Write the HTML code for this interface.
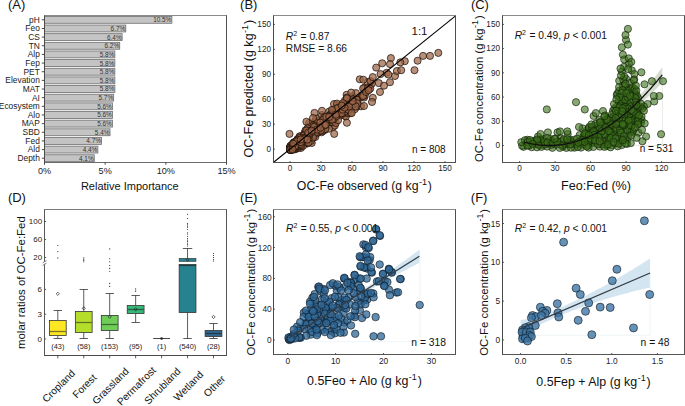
<!DOCTYPE html>
<html><head><meta charset="utf-8"><title>Figure</title>
<style>
html,body{margin:0;padding:0;background:#fff;}
body{width:685px;height:406px;overflow:hidden;}
svg{display:block;font-family:"Liberation Sans", sans-serif;}
</style></head>
<body>
<svg width="685" height="406" viewBox="0 0 685 406">
<rect width="685" height="406" fill="#fff"/>
<text x="7.9" y="9.3" font-size="13" text-anchor="start" fill="#111" >(A)</text>
<rect x="44.5" y="15.5" width="182.0" height="147.0" fill="#fff"/>
<rect x="44.50" y="16.38" width="127.40" height="6.9" fill="#c4c4c4" stroke="#6e6e6e" stroke-width="0.8"/>
<text x="171.3" y="22.2" font-size="6.4" text-anchor="end" fill="#333" >10.5%</text>
<text x="39.8" y="22.6" font-size="8.4" text-anchor="end" fill="#222" >pH</text>
<line x1="41.80" y1="19.82" x2="44.50" y2="19.82" stroke="#333" stroke-width="0.9" />
<rect x="44.50" y="25.03" width="81.29" height="6.9" fill="#c4c4c4" stroke="#6e6e6e" stroke-width="0.8"/>
<text x="125.2" y="30.9" font-size="6.4" text-anchor="end" fill="#333" >6.7%</text>
<text x="39.8" y="31.3" font-size="8.4" text-anchor="end" fill="#222" >Feo</text>
<line x1="41.80" y1="28.48" x2="44.50" y2="28.48" stroke="#333" stroke-width="0.9" />
<rect x="44.50" y="33.67" width="77.65" height="6.9" fill="#c4c4c4" stroke="#6e6e6e" stroke-width="0.8"/>
<text x="121.6" y="39.5" font-size="6.4" text-anchor="end" fill="#333" >6.4%</text>
<text x="39.8" y="39.9" font-size="8.4" text-anchor="end" fill="#222" >CS</text>
<line x1="41.80" y1="37.12" x2="44.50" y2="37.12" stroke="#333" stroke-width="0.9" />
<rect x="44.50" y="42.33" width="75.23" height="6.9" fill="#c4c4c4" stroke="#6e6e6e" stroke-width="0.8"/>
<text x="119.1" y="48.2" font-size="6.4" text-anchor="end" fill="#333" >6.2%</text>
<text x="39.8" y="48.6" font-size="8.4" text-anchor="end" fill="#222" >TN</text>
<line x1="41.80" y1="45.78" x2="44.50" y2="45.78" stroke="#333" stroke-width="0.9" />
<rect x="44.50" y="50.98" width="70.37" height="6.9" fill="#c4c4c4" stroke="#6e6e6e" stroke-width="0.8"/>
<text x="114.3" y="56.8" font-size="6.4" text-anchor="end" fill="#333" >5.8%</text>
<text x="39.8" y="57.2" font-size="8.4" text-anchor="end" fill="#222" >Alp</text>
<line x1="41.80" y1="54.43" x2="44.50" y2="54.43" stroke="#333" stroke-width="0.9" />
<rect x="44.50" y="59.62" width="70.37" height="6.9" fill="#c4c4c4" stroke="#6e6e6e" stroke-width="0.8"/>
<text x="114.3" y="65.5" font-size="6.4" text-anchor="end" fill="#333" >5.8%</text>
<text x="39.8" y="65.9" font-size="8.4" text-anchor="end" fill="#222" >Fep</text>
<line x1="41.80" y1="63.08" x2="44.50" y2="63.08" stroke="#333" stroke-width="0.9" />
<rect x="44.50" y="68.27" width="70.37" height="6.9" fill="#c4c4c4" stroke="#6e6e6e" stroke-width="0.8"/>
<text x="114.3" y="74.1" font-size="6.4" text-anchor="end" fill="#333" >5.8%</text>
<text x="39.8" y="74.5" font-size="8.4" text-anchor="end" fill="#222" >PET</text>
<line x1="41.80" y1="71.72" x2="44.50" y2="71.72" stroke="#333" stroke-width="0.9" />
<rect x="44.50" y="76.92" width="70.37" height="6.9" fill="#c4c4c4" stroke="#6e6e6e" stroke-width="0.8"/>
<text x="114.3" y="82.8" font-size="6.4" text-anchor="end" fill="#333" >5.8%</text>
<text x="39.8" y="83.2" font-size="8.4" text-anchor="end" fill="#222" >Elevation</text>
<line x1="41.80" y1="80.38" x2="44.50" y2="80.38" stroke="#333" stroke-width="0.9" />
<rect x="44.50" y="85.58" width="70.37" height="6.9" fill="#c4c4c4" stroke="#6e6e6e" stroke-width="0.8"/>
<text x="114.3" y="91.4" font-size="6.4" text-anchor="end" fill="#333" >5.8%</text>
<text x="39.8" y="91.8" font-size="8.4" text-anchor="end" fill="#222" >MAT</text>
<line x1="41.80" y1="89.03" x2="44.50" y2="89.03" stroke="#333" stroke-width="0.9" />
<rect x="44.50" y="94.22" width="69.16" height="6.9" fill="#c4c4c4" stroke="#6e6e6e" stroke-width="0.8"/>
<text x="113.1" y="100.1" font-size="6.4" text-anchor="end" fill="#333" >5.7%</text>
<text x="39.8" y="100.5" font-size="8.4" text-anchor="end" fill="#222" >AI</text>
<line x1="41.80" y1="97.67" x2="44.50" y2="97.67" stroke="#333" stroke-width="0.9" />
<rect x="44.50" y="102.88" width="67.95" height="6.9" fill="#c4c4c4" stroke="#6e6e6e" stroke-width="0.8"/>
<text x="111.8" y="108.7" font-size="6.4" text-anchor="end" fill="#333" >5.6%</text>
<text x="39.8" y="109.1" font-size="8.4" text-anchor="end" fill="#222" >Ecosystem</text>
<line x1="41.80" y1="106.33" x2="44.50" y2="106.33" stroke="#333" stroke-width="0.9" />
<rect x="44.50" y="111.53" width="67.95" height="6.9" fill="#c4c4c4" stroke="#6e6e6e" stroke-width="0.8"/>
<text x="111.8" y="117.4" font-size="6.4" text-anchor="end" fill="#333" >5.6%</text>
<text x="39.8" y="117.8" font-size="8.4" text-anchor="end" fill="#222" >Alo</text>
<line x1="41.80" y1="114.98" x2="44.50" y2="114.98" stroke="#333" stroke-width="0.9" />
<rect x="44.50" y="120.17" width="67.95" height="6.9" fill="#c4c4c4" stroke="#6e6e6e" stroke-width="0.8"/>
<text x="111.8" y="126.0" font-size="6.4" text-anchor="end" fill="#333" >5.6%</text>
<text x="39.8" y="126.4" font-size="8.4" text-anchor="end" fill="#222" >MAP</text>
<line x1="41.80" y1="123.62" x2="44.50" y2="123.62" stroke="#333" stroke-width="0.9" />
<rect x="44.50" y="128.83" width="65.52" height="6.9" fill="#c4c4c4" stroke="#6e6e6e" stroke-width="0.8"/>
<text x="109.4" y="134.7" font-size="6.4" text-anchor="end" fill="#333" >5.4%</text>
<text x="39.8" y="135.1" font-size="8.4" text-anchor="end" fill="#222" >SBD</text>
<line x1="41.80" y1="132.28" x2="44.50" y2="132.28" stroke="#333" stroke-width="0.9" />
<rect x="44.50" y="137.48" width="57.03" height="6.9" fill="#c4c4c4" stroke="#6e6e6e" stroke-width="0.8"/>
<text x="100.9" y="143.3" font-size="6.4" text-anchor="end" fill="#333" >4.7%</text>
<text x="39.8" y="143.7" font-size="8.4" text-anchor="end" fill="#222" >Fed</text>
<line x1="41.80" y1="140.93" x2="44.50" y2="140.93" stroke="#333" stroke-width="0.9" />
<rect x="44.50" y="146.13" width="53.39" height="6.9" fill="#c4c4c4" stroke="#6e6e6e" stroke-width="0.8"/>
<text x="97.3" y="152.0" font-size="6.4" text-anchor="end" fill="#333" >4.4%</text>
<text x="39.8" y="152.4" font-size="8.4" text-anchor="end" fill="#222" >Ald</text>
<line x1="41.80" y1="149.58" x2="44.50" y2="149.58" stroke="#333" stroke-width="0.9" />
<rect x="44.50" y="154.78" width="49.75" height="6.9" fill="#c4c4c4" stroke="#6e6e6e" stroke-width="0.8"/>
<text x="93.6" y="160.6" font-size="6.4" text-anchor="end" fill="#333" >4.1%</text>
<text x="39.8" y="161.0" font-size="8.4" text-anchor="end" fill="#222" >Depth</text>
<line x1="41.80" y1="158.22" x2="44.50" y2="158.22" stroke="#333" stroke-width="0.9" />
<line x1="44.00" y1="15.50" x2="227.00" y2="15.50" stroke="#8a8a8a" stroke-width="1" />
<line x1="44.50" y1="15.50" x2="44.50" y2="163.00" stroke="#4a4a4a" stroke-width="1" />
<line x1="44.50" y1="162.50" x2="227.00" y2="162.50" stroke="#6a6a6a" stroke-width="1" />
<line x1="226.50" y1="15.50" x2="226.50" y2="162.50" stroke="#505050" stroke-width="1" />
<line x1="44.50" y1="162.50" x2="44.50" y2="164.70" stroke="#333" stroke-width="0.9" />
<text x="44.5" y="174.4" font-size="9.1" text-anchor="middle" fill="#222" >0%</text>
<line x1="105.17" y1="162.50" x2="105.17" y2="164.70" stroke="#333" stroke-width="0.9" />
<text x="105.2" y="174.4" font-size="9.1" text-anchor="middle" fill="#222" >5%</text>
<line x1="165.83" y1="162.50" x2="165.83" y2="164.70" stroke="#333" stroke-width="0.9" />
<text x="165.8" y="174.4" font-size="9.1" text-anchor="middle" fill="#222" >10%</text>
<line x1="226.50" y1="162.50" x2="226.50" y2="164.70" stroke="#333" stroke-width="0.9" />
<text x="226.5" y="174.4" font-size="9.1" text-anchor="middle" fill="#222" >15%</text>
<text x="129.8" y="190.2" font-size="11" text-anchor="middle" fill="#111">Relative Importance</text>
<text x="240.1" y="9.3" font-size="13" text-anchor="start" fill="#111" >(B)</text>
<g fill="#9c6546" fill-opacity="0.72" stroke="#1e120a" stroke-width="0.75" stroke-opacity="1">
<circle cx="302.7" cy="139.0" r="3.55"/>
<circle cx="291.4" cy="148.2" r="3.55"/>
<circle cx="305.9" cy="134.6" r="3.55"/>
<circle cx="297.3" cy="141.1" r="3.55"/>
<circle cx="294.7" cy="144.6" r="3.55"/>
<circle cx="294.2" cy="146.8" r="3.55"/>
<circle cx="301.5" cy="137.7" r="3.55"/>
<circle cx="295.0" cy="144.0" r="3.55"/>
<circle cx="356.7" cy="101.9" r="3.55"/>
<circle cx="296.5" cy="145.1" r="3.55"/>
<circle cx="302.1" cy="138.5" r="3.55"/>
<circle cx="344.9" cy="100.6" r="3.55"/>
<circle cx="293.3" cy="147.4" r="3.55"/>
<circle cx="290.5" cy="146.4" r="3.55"/>
<circle cx="319.3" cy="126.2" r="3.55"/>
<circle cx="300.9" cy="140.4" r="3.55"/>
<circle cx="360.0" cy="98.0" r="3.55"/>
<circle cx="310.0" cy="135.9" r="3.55"/>
<circle cx="311.9" cy="133.4" r="3.55"/>
<circle cx="306.7" cy="139.6" r="3.55"/>
<circle cx="295.5" cy="143.7" r="3.55"/>
<circle cx="296.4" cy="142.2" r="3.55"/>
<circle cx="333.4" cy="111.1" r="3.55"/>
<circle cx="298.0" cy="145.4" r="3.55"/>
<circle cx="296.8" cy="144.4" r="3.55"/>
<circle cx="333.6" cy="118.2" r="3.55"/>
<circle cx="324.8" cy="130.0" r="3.55"/>
<circle cx="296.7" cy="141.2" r="3.55"/>
<circle cx="317.7" cy="130.1" r="3.55"/>
<circle cx="333.1" cy="126.9" r="3.55"/>
<circle cx="290.3" cy="147.9" r="3.55"/>
<circle cx="333.4" cy="122.1" r="3.55"/>
<circle cx="298.4" cy="141.9" r="3.55"/>
<circle cx="351.9" cy="97.5" r="3.55"/>
<circle cx="317.5" cy="128.8" r="3.55"/>
<circle cx="356.0" cy="100.0" r="3.55"/>
<circle cx="290.9" cy="148.6" r="3.55"/>
<circle cx="302.6" cy="141.7" r="3.55"/>
<circle cx="308.7" cy="134.5" r="3.55"/>
<circle cx="301.4" cy="138.1" r="3.55"/>
<circle cx="290.2" cy="149.1" r="3.55"/>
<circle cx="290.5" cy="147.0" r="3.55"/>
<circle cx="352.5" cy="96.2" r="3.55"/>
<circle cx="313.6" cy="127.3" r="3.55"/>
<circle cx="291.1" cy="148.8" r="3.55"/>
<circle cx="301.1" cy="143.6" r="3.55"/>
<circle cx="306.0" cy="138.1" r="3.55"/>
<circle cx="306.7" cy="142.9" r="3.55"/>
<circle cx="317.1" cy="127.8" r="3.55"/>
<circle cx="296.6" cy="141.9" r="3.55"/>
<circle cx="308.1" cy="134.9" r="3.55"/>
<circle cx="297.0" cy="143.4" r="3.55"/>
<circle cx="292.3" cy="147.5" r="3.55"/>
<circle cx="297.1" cy="143.3" r="3.55"/>
<circle cx="291.5" cy="148.7" r="3.55"/>
<circle cx="308.2" cy="136.2" r="3.55"/>
<circle cx="404.8" cy="61.2" r="3.55"/>
<circle cx="326.0" cy="118.0" r="3.55"/>
<circle cx="294.6" cy="143.1" r="3.55"/>
<circle cx="291.4" cy="147.2" r="3.55"/>
<circle cx="292.5" cy="148.2" r="3.55"/>
<circle cx="297.2" cy="142.5" r="3.55"/>
<circle cx="315.6" cy="127.2" r="3.55"/>
<circle cx="291.4" cy="149.2" r="3.55"/>
<circle cx="320.6" cy="123.1" r="3.55"/>
<circle cx="295.7" cy="144.7" r="3.55"/>
<circle cx="344.6" cy="115.7" r="3.55"/>
<circle cx="294.7" cy="146.0" r="3.55"/>
<circle cx="309.7" cy="129.9" r="3.55"/>
<circle cx="300.8" cy="143.2" r="3.55"/>
<circle cx="295.1" cy="145.7" r="3.55"/>
<circle cx="294.7" cy="142.7" r="3.55"/>
<circle cx="290.4" cy="149.0" r="3.55"/>
<circle cx="319.5" cy="123.9" r="3.55"/>
<circle cx="296.8" cy="145.4" r="3.55"/>
<circle cx="291.1" cy="149.5" r="3.55"/>
<circle cx="312.8" cy="129.1" r="3.55"/>
<circle cx="314.0" cy="134.8" r="3.55"/>
<circle cx="295.4" cy="143.0" r="3.55"/>
<circle cx="290.6" cy="149.0" r="3.55"/>
<circle cx="303.1" cy="138.9" r="3.55"/>
<circle cx="296.4" cy="142.2" r="3.55"/>
<circle cx="319.1" cy="126.4" r="3.55"/>
<circle cx="293.8" cy="146.3" r="3.55"/>
<circle cx="300.5" cy="142.2" r="3.55"/>
<circle cx="376.2" cy="67.6" r="3.55"/>
<circle cx="322.6" cy="120.8" r="3.55"/>
<circle cx="291.7" cy="149.5" r="3.55"/>
<circle cx="313.5" cy="133.5" r="3.55"/>
<circle cx="291.1" cy="146.9" r="3.55"/>
<circle cx="295.7" cy="145.0" r="3.55"/>
<circle cx="323.7" cy="116.7" r="3.55"/>
<circle cx="295.4" cy="145.8" r="3.55"/>
<circle cx="340.4" cy="110.7" r="3.55"/>
<circle cx="326.3" cy="123.3" r="3.55"/>
<circle cx="313.1" cy="130.1" r="3.55"/>
<circle cx="294.0" cy="148.8" r="3.55"/>
<circle cx="308.7" cy="131.1" r="3.55"/>
<circle cx="297.2" cy="142.5" r="3.55"/>
<circle cx="313.7" cy="130.3" r="3.55"/>
<circle cx="294.4" cy="142.8" r="3.55"/>
<circle cx="304.3" cy="141.3" r="3.55"/>
<circle cx="318.0" cy="126.0" r="3.55"/>
<circle cx="304.2" cy="140.4" r="3.55"/>
<circle cx="345.9" cy="116.5" r="3.55"/>
<circle cx="315.1" cy="121.7" r="3.55"/>
<circle cx="294.2" cy="145.3" r="3.55"/>
<circle cx="300.5" cy="143.0" r="3.55"/>
<circle cx="309.6" cy="131.3" r="3.55"/>
<circle cx="311.3" cy="134.5" r="3.55"/>
<circle cx="310.2" cy="136.5" r="3.55"/>
<circle cx="369.8" cy="86.0" r="3.55"/>
<circle cx="337.8" cy="109.0" r="3.55"/>
<circle cx="306.1" cy="137.0" r="3.55"/>
<circle cx="299.7" cy="140.3" r="3.55"/>
<circle cx="331.3" cy="116.7" r="3.55"/>
<circle cx="291.3" cy="148.1" r="3.55"/>
<circle cx="364.0" cy="97.6" r="3.55"/>
<circle cx="301.6" cy="139.5" r="3.55"/>
<circle cx="311.0" cy="127.2" r="3.55"/>
<circle cx="292.5" cy="148.1" r="3.55"/>
<circle cx="312.3" cy="128.7" r="3.55"/>
<circle cx="304.0" cy="137.7" r="3.55"/>
<circle cx="299.8" cy="136.8" r="3.55"/>
<circle cx="293.9" cy="147.3" r="3.55"/>
<circle cx="299.5" cy="147.0" r="3.55"/>
<circle cx="293.1" cy="148.9" r="3.55"/>
<circle cx="308.6" cy="137.5" r="3.55"/>
<circle cx="309.3" cy="125.5" r="3.55"/>
<circle cx="312.7" cy="134.0" r="3.55"/>
<circle cx="302.6" cy="140.2" r="3.55"/>
<circle cx="304.8" cy="134.5" r="3.55"/>
<circle cx="308.7" cy="135.6" r="3.55"/>
<circle cx="295.9" cy="144.4" r="3.55"/>
<circle cx="303.6" cy="138.5" r="3.55"/>
<circle cx="302.2" cy="139.5" r="3.55"/>
<circle cx="291.5" cy="147.8" r="3.55"/>
<circle cx="304.4" cy="140.6" r="3.55"/>
<circle cx="299.2" cy="142.1" r="3.55"/>
<circle cx="295.6" cy="145.1" r="3.55"/>
<circle cx="300.6" cy="141.2" r="3.55"/>
<circle cx="294.5" cy="146.6" r="3.55"/>
<circle cx="297.5" cy="141.8" r="3.55"/>
<circle cx="294.7" cy="144.4" r="3.55"/>
<circle cx="324.9" cy="121.6" r="3.55"/>
<circle cx="313.6" cy="134.2" r="3.55"/>
<circle cx="324.4" cy="119.2" r="3.55"/>
<circle cx="321.5" cy="132.3" r="3.55"/>
<circle cx="297.7" cy="146.0" r="3.55"/>
<circle cx="304.9" cy="134.8" r="3.55"/>
<circle cx="348.1" cy="102.5" r="3.55"/>
<circle cx="319.0" cy="126.4" r="3.55"/>
<circle cx="298.4" cy="142.2" r="3.55"/>
<circle cx="320.8" cy="126.5" r="3.55"/>
<circle cx="293.1" cy="149.4" r="3.55"/>
<circle cx="321.0" cy="129.3" r="3.55"/>
<circle cx="357.1" cy="99.7" r="3.55"/>
<circle cx="293.2" cy="147.5" r="3.55"/>
<circle cx="321.3" cy="126.5" r="3.55"/>
<circle cx="293.9" cy="142.8" r="3.55"/>
<circle cx="386.6" cy="72.8" r="3.55"/>
<circle cx="297.4" cy="142.7" r="3.55"/>
<circle cx="299.2" cy="138.0" r="3.55"/>
<circle cx="345.0" cy="108.0" r="3.55"/>
<circle cx="291.8" cy="146.6" r="3.55"/>
<circle cx="295.5" cy="143.8" r="3.55"/>
<circle cx="308.7" cy="131.5" r="3.55"/>
<circle cx="301.6" cy="146.2" r="3.55"/>
<circle cx="292.9" cy="147.7" r="3.55"/>
<circle cx="316.2" cy="131.1" r="3.55"/>
<circle cx="315.6" cy="129.4" r="3.55"/>
<circle cx="364.2" cy="87.7" r="3.55"/>
<circle cx="295.2" cy="145.7" r="3.55"/>
<circle cx="304.7" cy="137.8" r="3.55"/>
<circle cx="305.3" cy="138.5" r="3.55"/>
<circle cx="343.7" cy="113.4" r="3.55"/>
<circle cx="297.4" cy="144.6" r="3.55"/>
<circle cx="306.1" cy="132.7" r="3.55"/>
<circle cx="324.7" cy="124.5" r="3.55"/>
<circle cx="309.7" cy="132.2" r="3.55"/>
<circle cx="293.3" cy="148.1" r="3.55"/>
<circle cx="298.0" cy="141.5" r="3.55"/>
<circle cx="291.8" cy="147.4" r="3.55"/>
<circle cx="306.4" cy="137.0" r="3.55"/>
<circle cx="316.8" cy="126.5" r="3.55"/>
<circle cx="334.7" cy="115.1" r="3.55"/>
<circle cx="304.2" cy="143.0" r="3.55"/>
<circle cx="297.8" cy="142.1" r="3.55"/>
<circle cx="296.4" cy="141.5" r="3.55"/>
<circle cx="296.5" cy="142.0" r="3.55"/>
<circle cx="304.3" cy="139.6" r="3.55"/>
<circle cx="327.8" cy="121.9" r="3.55"/>
<circle cx="290.9" cy="148.2" r="3.55"/>
<circle cx="317.7" cy="124.7" r="3.55"/>
<circle cx="296.1" cy="145.4" r="3.55"/>
<circle cx="329.3" cy="111.5" r="3.55"/>
<circle cx="290.8" cy="145.8" r="3.55"/>
<circle cx="316.2" cy="131.1" r="3.55"/>
<circle cx="329.2" cy="123.1" r="3.55"/>
<circle cx="356.5" cy="99.6" r="3.55"/>
<circle cx="292.1" cy="147.3" r="3.55"/>
<circle cx="303.9" cy="136.3" r="3.55"/>
<circle cx="304.2" cy="139.9" r="3.55"/>
<circle cx="310.2" cy="135.2" r="3.55"/>
<circle cx="298.6" cy="140.6" r="3.55"/>
<circle cx="311.8" cy="143.0" r="3.55"/>
<circle cx="306.1" cy="142.3" r="3.55"/>
<circle cx="304.2" cy="138.5" r="3.55"/>
<circle cx="291.1" cy="148.1" r="3.55"/>
<circle cx="294.3" cy="145.5" r="3.55"/>
<circle cx="310.0" cy="125.5" r="3.55"/>
<circle cx="303.4" cy="137.5" r="3.55"/>
<circle cx="291.0" cy="149.6" r="3.55"/>
<circle cx="329.3" cy="122.9" r="3.55"/>
<circle cx="332.9" cy="122.1" r="3.55"/>
<circle cx="296.6" cy="143.0" r="3.55"/>
<circle cx="296.6" cy="144.9" r="3.55"/>
<circle cx="291.1" cy="146.7" r="3.55"/>
<circle cx="343.4" cy="110.9" r="3.55"/>
<circle cx="291.3" cy="148.1" r="3.55"/>
<circle cx="336.3" cy="107.5" r="3.55"/>
<circle cx="347.5" cy="106.4" r="3.55"/>
<circle cx="306.5" cy="135.9" r="3.55"/>
<circle cx="309.0" cy="136.8" r="3.55"/>
<circle cx="340.0" cy="105.7" r="3.55"/>
<circle cx="334.8" cy="125.6" r="3.55"/>
<circle cx="291.6" cy="147.5" r="3.55"/>
<circle cx="395.0" cy="76.0" r="3.55"/>
<circle cx="296.6" cy="145.2" r="3.55"/>
<circle cx="315.5" cy="132.7" r="3.55"/>
<circle cx="364.8" cy="95.6" r="3.55"/>
<circle cx="296.2" cy="148.6" r="3.55"/>
<circle cx="291.8" cy="147.9" r="3.55"/>
<circle cx="308.7" cy="135.4" r="3.55"/>
<circle cx="318.0" cy="128.6" r="3.55"/>
<circle cx="339.1" cy="112.2" r="3.55"/>
<circle cx="340.2" cy="115.4" r="3.55"/>
<circle cx="322.4" cy="122.4" r="3.55"/>
<circle cx="291.7" cy="148.7" r="3.55"/>
<circle cx="361.0" cy="106.3" r="3.55"/>
<circle cx="291.6" cy="148.7" r="3.55"/>
<circle cx="330.9" cy="117.3" r="3.55"/>
<circle cx="301.0" cy="147.9" r="3.55"/>
<circle cx="299.6" cy="145.0" r="3.55"/>
<circle cx="317.8" cy="125.5" r="3.55"/>
<circle cx="348.3" cy="113.2" r="3.55"/>
<circle cx="296.8" cy="146.1" r="3.55"/>
<circle cx="307.2" cy="139.1" r="3.55"/>
<circle cx="298.8" cy="144.2" r="3.55"/>
<circle cx="294.6" cy="144.4" r="3.55"/>
<circle cx="293.0" cy="144.8" r="3.55"/>
<circle cx="296.1" cy="145.7" r="3.55"/>
<circle cx="340.0" cy="112.0" r="3.55"/>
<circle cx="293.4" cy="148.0" r="3.55"/>
<circle cx="314.8" cy="126.6" r="3.55"/>
<circle cx="294.6" cy="147.1" r="3.55"/>
<circle cx="292.7" cy="147.4" r="3.55"/>
<circle cx="289.5" cy="133.9" r="3.55"/>
<circle cx="293.1" cy="146.4" r="3.55"/>
<circle cx="322.0" cy="115.0" r="3.55"/>
<circle cx="317.9" cy="127.2" r="3.55"/>
<circle cx="297.3" cy="144.5" r="3.55"/>
<circle cx="293.6" cy="147.7" r="3.55"/>
<circle cx="331.0" cy="116.4" r="3.55"/>
<circle cx="309.3" cy="134.6" r="3.55"/>
<circle cx="324.8" cy="118.8" r="3.55"/>
<circle cx="333.3" cy="121.2" r="3.55"/>
<circle cx="322.8" cy="131.2" r="3.55"/>
<circle cx="316.5" cy="120.9" r="3.55"/>
<circle cx="341.0" cy="113.5" r="3.55"/>
<circle cx="302.1" cy="141.7" r="3.55"/>
<circle cx="303.1" cy="139.7" r="3.55"/>
<circle cx="363.1" cy="88.5" r="3.55"/>
<circle cx="350.5" cy="113.1" r="3.55"/>
<circle cx="332.0" cy="122.0" r="3.55"/>
<circle cx="333.0" cy="110.0" r="3.55"/>
<circle cx="337.6" cy="105.4" r="3.55"/>
<circle cx="356.4" cy="107.1" r="3.55"/>
<circle cx="293.5" cy="148.5" r="3.55"/>
<circle cx="300.9" cy="142.7" r="3.55"/>
<circle cx="295.3" cy="148.7" r="3.55"/>
<circle cx="380.5" cy="74.1" r="3.55"/>
<circle cx="301.5" cy="142.2" r="3.55"/>
<circle cx="308.2" cy="134.3" r="3.55"/>
<circle cx="297.2" cy="144.0" r="3.55"/>
<circle cx="293.8" cy="143.9" r="3.55"/>
<circle cx="294.9" cy="146.2" r="3.55"/>
<circle cx="293.5" cy="147.7" r="3.55"/>
<circle cx="318.2" cy="125.8" r="3.55"/>
<circle cx="300.2" cy="144.3" r="3.55"/>
<circle cx="293.8" cy="148.4" r="3.55"/>
<circle cx="306.1" cy="135.2" r="3.55"/>
<circle cx="291.1" cy="149.5" r="3.55"/>
<circle cx="300.7" cy="141.9" r="3.55"/>
<circle cx="297.4" cy="141.7" r="3.55"/>
<circle cx="307.4" cy="133.1" r="3.55"/>
<circle cx="309.0" cy="123.0" r="3.55"/>
<circle cx="297.3" cy="141.9" r="3.55"/>
<circle cx="378.8" cy="83.1" r="3.55"/>
<circle cx="346.6" cy="94.8" r="3.55"/>
<circle cx="371.7" cy="83.7" r="3.55"/>
<circle cx="296.1" cy="145.0" r="3.55"/>
<circle cx="321.6" cy="126.2" r="3.55"/>
<circle cx="290.6" cy="147.6" r="3.55"/>
<circle cx="290.6" cy="147.5" r="3.55"/>
<circle cx="298.8" cy="146.4" r="3.55"/>
<circle cx="301.9" cy="137.1" r="3.55"/>
<circle cx="306.4" cy="121.7" r="3.55"/>
<circle cx="290.5" cy="148.0" r="3.55"/>
<circle cx="323.4" cy="125.5" r="3.55"/>
<circle cx="290.2" cy="146.6" r="3.55"/>
<circle cx="335.8" cy="123.0" r="3.55"/>
<circle cx="297.2" cy="145.9" r="3.55"/>
<circle cx="300.3" cy="143.1" r="3.55"/>
<circle cx="305.5" cy="133.1" r="3.55"/>
<circle cx="291.6" cy="148.7" r="3.55"/>
<circle cx="307.8" cy="138.7" r="3.55"/>
<circle cx="291.3" cy="148.3" r="3.55"/>
<circle cx="291.3" cy="148.9" r="3.55"/>
<circle cx="292.9" cy="147.0" r="3.55"/>
<circle cx="331.0" cy="119.5" r="3.55"/>
<circle cx="359.8" cy="79.3" r="3.55"/>
<circle cx="296.0" cy="146.2" r="3.55"/>
<circle cx="306.7" cy="140.4" r="3.55"/>
<circle cx="293.0" cy="147.0" r="3.55"/>
<circle cx="299.6" cy="141.8" r="3.55"/>
<circle cx="334.0" cy="104.0" r="3.55"/>
<circle cx="344.6" cy="111.6" r="3.55"/>
<circle cx="291.3" cy="148.6" r="3.55"/>
<circle cx="312.7" cy="131.5" r="3.55"/>
<circle cx="315.7" cy="128.9" r="3.55"/>
<circle cx="291.8" cy="147.8" r="3.55"/>
<circle cx="346.7" cy="97.7" r="3.55"/>
<circle cx="300.9" cy="139.9" r="3.55"/>
<circle cx="294.4" cy="145.7" r="3.55"/>
<circle cx="367.5" cy="82.1" r="3.55"/>
<circle cx="297.4" cy="142.7" r="3.55"/>
<circle cx="291.2" cy="147.7" r="3.55"/>
<circle cx="295.7" cy="142.8" r="3.55"/>
<circle cx="298.5" cy="141.3" r="3.55"/>
<circle cx="345.4" cy="104.1" r="3.55"/>
<circle cx="291.4" cy="147.9" r="3.55"/>
<circle cx="313.0" cy="130.7" r="3.55"/>
<circle cx="323.0" cy="129.7" r="3.55"/>
<circle cx="295.1" cy="142.0" r="3.55"/>
<circle cx="307.2" cy="135.5" r="3.55"/>
<circle cx="294.9" cy="145.9" r="3.55"/>
<circle cx="291.6" cy="148.0" r="3.55"/>
<circle cx="308.5" cy="136.6" r="3.55"/>
<circle cx="307.1" cy="143.6" r="3.55"/>
<circle cx="292.6" cy="146.3" r="3.55"/>
<circle cx="297.5" cy="139.1" r="3.55"/>
<circle cx="317.6" cy="131.7" r="3.55"/>
<circle cx="334.1" cy="114.9" r="3.55"/>
<circle cx="294.7" cy="143.8" r="3.55"/>
<circle cx="352.8" cy="99.3" r="3.55"/>
<circle cx="294.7" cy="146.2" r="3.55"/>
<circle cx="292.5" cy="148.5" r="3.55"/>
<circle cx="293.0" cy="148.8" r="3.55"/>
<circle cx="295.2" cy="146.0" r="3.55"/>
<circle cx="321.2" cy="127.6" r="3.55"/>
<circle cx="300.0" cy="141.4" r="3.55"/>
<circle cx="317.6" cy="123.9" r="3.55"/>
<circle cx="301.6" cy="140.1" r="3.55"/>
<circle cx="322.0" cy="110.8" r="3.55"/>
<circle cx="295.4" cy="145.5" r="3.55"/>
<circle cx="296.7" cy="145.5" r="3.55"/>
<circle cx="326.8" cy="120.4" r="3.55"/>
<circle cx="300.2" cy="144.5" r="3.55"/>
<circle cx="300.6" cy="142.6" r="3.55"/>
<circle cx="316.5" cy="131.9" r="3.55"/>
<circle cx="303.9" cy="134.8" r="3.55"/>
<circle cx="292.9" cy="144.8" r="3.55"/>
<circle cx="298.6" cy="143.8" r="3.55"/>
<circle cx="298.8" cy="142.8" r="3.55"/>
<circle cx="300.4" cy="142.2" r="3.55"/>
<circle cx="338.1" cy="120.2" r="3.55"/>
<circle cx="301.3" cy="141.7" r="3.55"/>
<circle cx="297.4" cy="144.2" r="3.55"/>
<circle cx="311.1" cy="131.4" r="3.55"/>
<circle cx="328.8" cy="117.5" r="3.55"/>
<circle cx="331.2" cy="113.7" r="3.55"/>
<circle cx="290.9" cy="149.3" r="3.55"/>
<circle cx="298.1" cy="141.5" r="3.55"/>
<circle cx="308.0" cy="135.2" r="3.55"/>
<circle cx="305.2" cy="143.3" r="3.55"/>
<circle cx="294.5" cy="144.6" r="3.55"/>
<circle cx="305.1" cy="137.5" r="3.55"/>
<circle cx="295.0" cy="144.7" r="3.55"/>
<circle cx="296.4" cy="144.1" r="3.55"/>
<circle cx="293.3" cy="145.5" r="3.55"/>
<circle cx="291.3" cy="147.4" r="3.55"/>
<circle cx="315.2" cy="131.3" r="3.55"/>
<circle cx="305.8" cy="140.4" r="3.55"/>
<circle cx="299.0" cy="142.1" r="3.55"/>
<circle cx="309.0" cy="134.1" r="3.55"/>
<circle cx="330.3" cy="114.6" r="3.55"/>
<circle cx="293.2" cy="147.5" r="3.55"/>
<circle cx="307.5" cy="128.3" r="3.55"/>
<circle cx="295.3" cy="144.9" r="3.55"/>
<circle cx="296.8" cy="143.1" r="3.55"/>
<circle cx="291.2" cy="147.0" r="3.55"/>
<circle cx="295.7" cy="144.5" r="3.55"/>
<circle cx="292.9" cy="148.9" r="3.55"/>
<circle cx="354.8" cy="109.2" r="3.55"/>
<circle cx="291.6" cy="149.2" r="3.55"/>
<circle cx="293.1" cy="146.7" r="3.55"/>
<circle cx="291.1" cy="147.3" r="3.55"/>
<circle cx="316.4" cy="126.8" r="3.55"/>
<circle cx="315.1" cy="124.7" r="3.55"/>
<circle cx="296.7" cy="143.8" r="3.55"/>
<circle cx="316.4" cy="131.3" r="3.55"/>
<circle cx="318.7" cy="123.4" r="3.55"/>
<circle cx="290.8" cy="149.6" r="3.55"/>
<circle cx="299.6" cy="140.4" r="3.55"/>
<circle cx="296.6" cy="142.7" r="3.55"/>
<circle cx="294.3" cy="145.0" r="3.55"/>
<circle cx="312.5" cy="138.0" r="3.55"/>
<circle cx="314.5" cy="112.9" r="3.55"/>
<circle cx="304.7" cy="132.8" r="3.55"/>
<circle cx="312.6" cy="129.6" r="3.55"/>
<circle cx="293.6" cy="148.4" r="3.55"/>
<circle cx="326.6" cy="125.7" r="3.55"/>
<circle cx="329.0" cy="128.7" r="3.55"/>
<circle cx="296.0" cy="144.7" r="3.55"/>
<circle cx="304.4" cy="141.8" r="3.55"/>
<circle cx="298.4" cy="140.6" r="3.55"/>
<circle cx="297.9" cy="141.0" r="3.55"/>
<circle cx="297.9" cy="142.6" r="3.55"/>
<circle cx="290.7" cy="147.7" r="3.55"/>
<circle cx="305.9" cy="137.8" r="3.55"/>
<circle cx="305.5" cy="136.7" r="3.55"/>
<circle cx="314.6" cy="130.3" r="3.55"/>
<circle cx="292.1" cy="148.9" r="3.55"/>
<circle cx="315.8" cy="132.0" r="3.55"/>
<circle cx="362.5" cy="95.6" r="3.55"/>
<circle cx="343.9" cy="107.2" r="3.55"/>
<circle cx="294.0" cy="147.0" r="3.55"/>
<circle cx="297.4" cy="142.3" r="3.55"/>
<circle cx="290.3" cy="149.4" r="3.55"/>
<circle cx="302.9" cy="140.3" r="3.55"/>
<circle cx="333.7" cy="119.0" r="3.55"/>
<circle cx="292.3" cy="147.0" r="3.55"/>
<circle cx="304.1" cy="138.4" r="3.55"/>
<circle cx="302.1" cy="141.4" r="3.55"/>
<circle cx="334.2" cy="133.9" r="3.55"/>
<circle cx="290.3" cy="149.4" r="3.55"/>
<circle cx="294.5" cy="143.4" r="3.55"/>
<circle cx="308.5" cy="133.3" r="3.55"/>
<circle cx="294.1" cy="146.6" r="3.55"/>
<circle cx="423.1" cy="55.9" r="3.55"/>
<circle cx="430.0" cy="55.9" r="3.55"/>
<circle cx="305.2" cy="138.0" r="3.55"/>
<circle cx="313.7" cy="125.2" r="3.55"/>
<circle cx="329.2" cy="116.1" r="3.55"/>
<circle cx="313.3" cy="130.1" r="3.55"/>
<circle cx="367.0" cy="91.3" r="3.55"/>
<circle cx="337.0" cy="103.6" r="3.55"/>
<circle cx="302.3" cy="144.6" r="3.55"/>
<circle cx="346.9" cy="122.8" r="3.55"/>
<circle cx="307.5" cy="135.0" r="3.55"/>
<circle cx="307.7" cy="136.0" r="3.55"/>
<circle cx="295.9" cy="141.7" r="3.55"/>
<circle cx="300.4" cy="140.6" r="3.55"/>
<circle cx="363.2" cy="96.1" r="3.55"/>
<circle cx="307.8" cy="134.4" r="3.55"/>
<circle cx="306.7" cy="134.6" r="3.55"/>
<circle cx="298.7" cy="139.7" r="3.55"/>
<circle cx="308.2" cy="135.2" r="3.55"/>
<circle cx="317.2" cy="125.9" r="3.55"/>
<circle cx="317.8" cy="123.9" r="3.55"/>
<circle cx="294.5" cy="142.6" r="3.55"/>
<circle cx="300.9" cy="141.6" r="3.55"/>
<circle cx="301.3" cy="139.1" r="3.55"/>
<circle cx="295.3" cy="149.2" r="3.55"/>
<circle cx="302.4" cy="139.3" r="3.55"/>
<circle cx="299.6" cy="145.5" r="3.55"/>
<circle cx="338.6" cy="107.9" r="3.55"/>
<circle cx="290.3" cy="149.8" r="3.55"/>
<circle cx="303.8" cy="138.7" r="3.55"/>
<circle cx="290.4" cy="149.5" r="3.55"/>
<circle cx="293.1" cy="146.4" r="3.55"/>
<circle cx="353.4" cy="104.6" r="3.55"/>
<circle cx="313.3" cy="130.3" r="3.55"/>
<circle cx="340.9" cy="109.5" r="3.55"/>
<circle cx="297.7" cy="146.0" r="3.55"/>
<circle cx="307.0" cy="139.4" r="3.55"/>
<circle cx="296.6" cy="143.1" r="3.55"/>
<circle cx="355.9" cy="93.1" r="3.55"/>
<circle cx="297.6" cy="145.5" r="3.55"/>
<circle cx="309.8" cy="131.2" r="3.55"/>
<circle cx="348.4" cy="109.7" r="3.55"/>
<circle cx="291.7" cy="145.8" r="3.55"/>
<circle cx="299.0" cy="143.9" r="3.55"/>
<circle cx="330.8" cy="114.9" r="3.55"/>
<circle cx="366.0" cy="92.0" r="3.55"/>
<circle cx="298.5" cy="144.1" r="3.55"/>
<circle cx="305.4" cy="139.3" r="3.55"/>
<circle cx="290.8" cy="149.1" r="3.55"/>
<circle cx="305.5" cy="134.7" r="3.55"/>
<circle cx="298.4" cy="141.3" r="3.55"/>
<circle cx="302.0" cy="137.4" r="3.55"/>
<circle cx="314.0" cy="134.0" r="3.55"/>
<circle cx="316.0" cy="118.7" r="3.55"/>
<circle cx="320.3" cy="126.2" r="3.55"/>
<circle cx="324.1" cy="126.0" r="3.55"/>
<circle cx="311.9" cy="137.1" r="3.55"/>
<circle cx="292.7" cy="146.0" r="3.55"/>
<circle cx="290.3" cy="149.6" r="3.55"/>
<circle cx="294.0" cy="146.5" r="3.55"/>
<circle cx="337.6" cy="112.2" r="3.55"/>
<circle cx="292.0" cy="148.8" r="3.55"/>
<circle cx="302.7" cy="138.6" r="3.55"/>
<circle cx="396.9" cy="71.0" r="3.55"/>
<circle cx="291.1" cy="146.3" r="3.55"/>
<circle cx="295.6" cy="145.1" r="3.55"/>
<circle cx="291.8" cy="147.1" r="3.55"/>
<circle cx="294.3" cy="145.8" r="3.55"/>
<circle cx="299.8" cy="142.4" r="3.55"/>
<circle cx="314.6" cy="131.7" r="3.55"/>
<circle cx="298.1" cy="148.2" r="3.55"/>
<circle cx="290.9" cy="148.2" r="3.55"/>
<circle cx="299.5" cy="139.6" r="3.55"/>
<circle cx="370.6" cy="81.0" r="3.55"/>
<circle cx="315.3" cy="137.0" r="3.55"/>
<circle cx="292.2" cy="149.4" r="3.55"/>
<circle cx="303.0" cy="138.0" r="3.55"/>
<circle cx="329.5" cy="116.2" r="3.55"/>
<circle cx="306.8" cy="139.6" r="3.55"/>
<circle cx="292.1" cy="148.8" r="3.55"/>
<circle cx="338.0" cy="108.6" r="3.55"/>
<circle cx="291.2" cy="146.6" r="3.55"/>
<circle cx="401.2" cy="70.2" r="3.55"/>
<circle cx="301.3" cy="139.1" r="3.55"/>
<circle cx="303.7" cy="138.4" r="3.55"/>
<circle cx="390.9" cy="58.1" r="3.55"/>
<circle cx="297.3" cy="146.2" r="3.55"/>
<circle cx="290.0" cy="147.1" r="3.55"/>
<circle cx="390.0" cy="64.1" r="3.55"/>
<circle cx="331.8" cy="117.0" r="3.55"/>
<circle cx="357.3" cy="103.3" r="3.55"/>
<circle cx="294.6" cy="147.4" r="3.55"/>
<circle cx="297.0" cy="141.7" r="3.55"/>
<circle cx="292.0" cy="148.7" r="3.55"/>
<circle cx="312.1" cy="136.3" r="3.55"/>
<circle cx="297.9" cy="146.5" r="3.55"/>
<circle cx="297.1" cy="145.6" r="3.55"/>
<circle cx="299.7" cy="136.2" r="3.55"/>
<circle cx="299.3" cy="142.0" r="3.55"/>
<circle cx="294.9" cy="146.0" r="3.55"/>
<circle cx="291.7" cy="146.3" r="3.55"/>
<circle cx="299.3" cy="140.0" r="3.55"/>
<circle cx="293.5" cy="146.7" r="3.55"/>
<circle cx="368.0" cy="88.0" r="3.55"/>
<circle cx="321.9" cy="122.2" r="3.55"/>
<circle cx="337.3" cy="108.2" r="3.55"/>
<circle cx="297.7" cy="139.9" r="3.55"/>
<circle cx="296.4" cy="145.9" r="3.55"/>
<circle cx="298.7" cy="146.7" r="3.55"/>
<circle cx="304.4" cy="136.8" r="3.55"/>
<circle cx="290.1" cy="149.8" r="3.55"/>
<circle cx="384.0" cy="85.7" r="3.55"/>
<circle cx="303.3" cy="135.2" r="3.55"/>
<circle cx="322.7" cy="124.2" r="3.55"/>
<circle cx="296.5" cy="141.7" r="3.55"/>
<circle cx="309.0" cy="131.7" r="3.55"/>
<circle cx="296.3" cy="145.3" r="3.55"/>
<circle cx="300.3" cy="142.1" r="3.55"/>
<circle cx="293.4" cy="144.0" r="3.55"/>
<circle cx="336.4" cy="116.3" r="3.55"/>
<circle cx="302.6" cy="139.3" r="3.55"/>
<circle cx="309.7" cy="133.1" r="3.55"/>
<circle cx="296.2" cy="143.6" r="3.55"/>
<circle cx="370.2" cy="88.7" r="3.55"/>
<circle cx="294.2" cy="144.4" r="3.55"/>
<circle cx="305.5" cy="130.3" r="3.55"/>
<circle cx="414.5" cy="70.2" r="3.55"/>
<circle cx="318.0" cy="132.2" r="3.55"/>
<circle cx="324.9" cy="116.8" r="3.55"/>
<circle cx="303.2" cy="145.8" r="3.55"/>
<circle cx="316.5" cy="133.7" r="3.55"/>
<circle cx="309.5" cy="135.8" r="3.55"/>
<circle cx="314.2" cy="130.9" r="3.55"/>
<circle cx="325.4" cy="129.0" r="3.55"/>
<circle cx="295.3" cy="147.1" r="3.55"/>
<circle cx="290.7" cy="146.2" r="3.55"/>
<circle cx="323.7" cy="124.8" r="3.55"/>
<circle cx="294.0" cy="146.3" r="3.55"/>
<circle cx="341.5" cy="113.3" r="3.55"/>
<circle cx="311.0" cy="141.0" r="3.55"/>
<circle cx="293.2" cy="147.5" r="3.55"/>
<circle cx="292.0" cy="147.6" r="3.55"/>
<circle cx="372.8" cy="97.8" r="3.55"/>
<circle cx="291.1" cy="145.4" r="3.55"/>
<circle cx="309.2" cy="136.4" r="3.55"/>
<circle cx="294.8" cy="142.5" r="3.55"/>
<circle cx="306.6" cy="130.5" r="3.55"/>
<circle cx="291.3" cy="148.0" r="3.55"/>
<circle cx="342.7" cy="109.6" r="3.55"/>
<circle cx="294.1" cy="142.3" r="3.55"/>
<circle cx="313.8" cy="131.8" r="3.55"/>
<circle cx="317.5" cy="122.8" r="3.55"/>
<circle cx="292.6" cy="145.5" r="3.55"/>
<circle cx="299.3" cy="141.8" r="3.55"/>
<circle cx="300.7" cy="140.1" r="3.55"/>
<circle cx="292.9" cy="149.8" r="3.55"/>
<circle cx="294.0" cy="145.9" r="3.55"/>
<circle cx="348.1" cy="104.5" r="3.55"/>
<circle cx="316.8" cy="126.6" r="3.55"/>
<circle cx="301.1" cy="140.6" r="3.55"/>
<circle cx="301.6" cy="143.2" r="3.55"/>
<circle cx="306.3" cy="142.5" r="3.55"/>
<circle cx="352.0" cy="104.0" r="3.55"/>
<circle cx="294.3" cy="145.6" r="3.55"/>
<circle cx="317.5" cy="126.7" r="3.55"/>
<circle cx="324.2" cy="125.5" r="3.55"/>
<circle cx="308.8" cy="138.2" r="3.55"/>
<circle cx="300.1" cy="141.9" r="3.55"/>
<circle cx="323.4" cy="119.3" r="3.55"/>
<circle cx="301.3" cy="143.1" r="3.55"/>
<circle cx="293.0" cy="143.1" r="3.55"/>
<circle cx="296.4" cy="146.2" r="3.55"/>
<circle cx="292.0" cy="148.8" r="3.55"/>
<circle cx="390.0" cy="82.2" r="3.55"/>
<circle cx="372.8" cy="77.1" r="3.55"/>
<circle cx="293.0" cy="149.0" r="3.55"/>
<circle cx="438.3" cy="52.9" r="3.55"/>
<circle cx="302.7" cy="141.9" r="3.55"/>
<circle cx="313.0" cy="118.0" r="3.55"/>
<circle cx="316.8" cy="131.4" r="3.55"/>
<circle cx="313.1" cy="135.5" r="3.55"/>
<circle cx="349.4" cy="106.5" r="3.55"/>
<circle cx="292.2" cy="147.8" r="3.55"/>
<circle cx="316.3" cy="132.4" r="3.55"/>
<circle cx="298.0" cy="142.4" r="3.55"/>
<circle cx="315.3" cy="126.0" r="3.55"/>
<circle cx="290.2" cy="150.0" r="3.55"/>
<circle cx="296.4" cy="145.6" r="3.55"/>
<circle cx="290.5" cy="147.3" r="3.55"/>
<circle cx="301.7" cy="141.3" r="3.55"/>
<circle cx="344.6" cy="107.6" r="3.55"/>
<circle cx="290.7" cy="148.7" r="3.55"/>
<circle cx="372.0" cy="102.0" r="3.55"/>
<circle cx="313.1" cy="137.5" r="3.55"/>
<circle cx="298.4" cy="143.4" r="3.55"/>
<circle cx="293.5" cy="145.1" r="3.55"/>
<circle cx="309.3" cy="135.7" r="3.55"/>
<circle cx="364.0" cy="106.0" r="3.55"/>
<circle cx="296.7" cy="143.1" r="3.55"/>
<circle cx="293.4" cy="147.4" r="3.55"/>
<circle cx="320.8" cy="130.6" r="3.55"/>
<circle cx="293.8" cy="143.9" r="3.55"/>
<circle cx="363.3" cy="79.7" r="3.55"/>
<circle cx="303.8" cy="135.5" r="3.55"/>
<circle cx="332.1" cy="119.6" r="3.55"/>
<circle cx="368.6" cy="90.2" r="3.55"/>
<circle cx="294.2" cy="144.6" r="3.55"/>
<circle cx="382.2" cy="63.3" r="3.55"/>
<circle cx="290.9" cy="149.7" r="3.55"/>
<circle cx="417.6" cy="60.7" r="3.55"/>
<circle cx="351.7" cy="113.1" r="3.55"/>
<circle cx="290.2" cy="150.0" r="3.55"/>
<circle cx="332.0" cy="109.8" r="3.55"/>
<circle cx="355.6" cy="106.4" r="3.55"/>
<circle cx="295.4" cy="145.1" r="3.55"/>
<circle cx="293.5" cy="144.9" r="3.55"/>
<circle cx="296.8" cy="145.2" r="3.55"/>
<circle cx="295.6" cy="145.0" r="3.55"/>
<circle cx="318.1" cy="127.0" r="3.55"/>
<circle cx="307.1" cy="137.4" r="3.55"/>
<circle cx="295.4" cy="148.1" r="3.55"/>
<circle cx="292.2" cy="145.0" r="3.55"/>
<circle cx="297.1" cy="144.7" r="3.55"/>
<circle cx="294.4" cy="146.7" r="3.55"/>
<circle cx="299.1" cy="138.7" r="3.55"/>
<circle cx="314.0" cy="126.9" r="3.55"/>
<circle cx="295.8" cy="141.7" r="3.55"/>
<circle cx="292.9" cy="146.7" r="3.55"/>
<circle cx="293.9" cy="145.5" r="3.55"/>
<circle cx="317.0" cy="129.6" r="3.55"/>
<circle cx="290.0" cy="149.0" r="3.55"/>
<circle cx="320.2" cy="122.6" r="3.55"/>
<circle cx="297.6" cy="142.2" r="3.55"/>
<circle cx="304.7" cy="138.2" r="3.55"/>
<circle cx="300.9" cy="137.9" r="3.55"/>
<circle cx="304.1" cy="139.8" r="3.55"/>
<circle cx="299.0" cy="145.9" r="3.55"/>
<circle cx="290.7" cy="148.1" r="3.55"/>
<circle cx="290.3" cy="149.7" r="3.55"/>
<circle cx="298.5" cy="143.7" r="3.55"/>
<circle cx="305.6" cy="138.5" r="3.55"/>
<circle cx="299.4" cy="140.4" r="3.55"/>
<circle cx="297.3" cy="145.1" r="3.55"/>
<circle cx="320.4" cy="127.7" r="3.55"/>
<circle cx="300.5" cy="138.2" r="3.55"/>
<circle cx="294.6" cy="147.7" r="3.55"/>
<circle cx="326.3" cy="116.9" r="3.55"/>
<circle cx="294.3" cy="145.9" r="3.55"/>
<circle cx="311.6" cy="132.1" r="3.55"/>
<circle cx="347.0" cy="98.3" r="3.55"/>
<circle cx="352.6" cy="101.3" r="3.55"/>
<circle cx="307.9" cy="134.5" r="3.55"/>
<circle cx="296.5" cy="143.6" r="3.55"/>
<circle cx="300.4" cy="140.4" r="3.55"/>
<circle cx="400.3" cy="62.4" r="3.55"/>
<circle cx="300.1" cy="140.9" r="3.55"/>
<circle cx="380.0" cy="92.0" r="3.55"/>
<circle cx="296.6" cy="143.7" r="3.55"/>
<circle cx="308.6" cy="139.7" r="3.55"/>
<circle cx="296.2" cy="143.8" r="3.55"/>
<circle cx="293.1" cy="146.4" r="3.55"/>
<circle cx="292.4" cy="148.6" r="3.55"/>
<circle cx="292.9" cy="146.7" r="3.55"/>
<circle cx="294.7" cy="142.3" r="3.55"/>
<circle cx="295.8" cy="142.3" r="3.55"/>
<circle cx="342.9" cy="103.2" r="3.55"/>
<circle cx="299.7" cy="137.9" r="3.55"/>
<circle cx="341.7" cy="105.6" r="3.55"/>
<circle cx="308.6" cy="142.6" r="3.55"/>
<circle cx="309.3" cy="133.4" r="3.55"/>
<circle cx="301.2" cy="145.3" r="3.55"/>
<circle cx="303.9" cy="137.8" r="3.55"/>
<circle cx="294.4" cy="146.3" r="3.55"/>
<circle cx="297.2" cy="143.4" r="3.55"/>
<circle cx="300.2" cy="144.1" r="3.55"/>
<circle cx="308.2" cy="132.4" r="3.55"/>
<circle cx="294.1" cy="145.1" r="3.55"/>
<circle cx="304.4" cy="138.7" r="3.55"/>
<circle cx="307.3" cy="139.6" r="3.55"/>
<circle cx="351.2" cy="92.6" r="3.55"/>
<circle cx="298.1" cy="140.1" r="3.55"/>
<circle cx="311.6" cy="130.7" r="3.55"/>
<circle cx="293.3" cy="146.7" r="3.55"/>
<circle cx="293.9" cy="147.3" r="3.55"/>
<circle cx="325.5" cy="124.8" r="3.55"/>
<circle cx="299.5" cy="142.4" r="3.55"/>
<circle cx="300.8" cy="142.1" r="3.55"/>
<circle cx="294.5" cy="146.2" r="3.55"/>
<circle cx="295.0" cy="146.1" r="3.55"/>
<circle cx="297.0" cy="141.2" r="3.55"/>
<circle cx="293.3" cy="143.7" r="3.55"/>
<circle cx="292.5" cy="149.5" r="3.55"/>
<circle cx="335.9" cy="114.7" r="3.55"/>
<circle cx="300.7" cy="139.4" r="3.55"/>
<circle cx="329.2" cy="116.9" r="3.55"/>
<circle cx="388.3" cy="74.5" r="3.55"/>
</g>
<clipPath id="cb"><rect x="273.5" y="15.5" width="182.0" height="147.0"/></clipPath>
<line x1="273.30" y1="162.50" x2="455.60" y2="15.90" stroke="#000" stroke-width="1.1" clip-path="url(#cb)"/>
<line x1="273.00" y1="15.50" x2="456.00" y2="15.50" stroke="#8a8a8a" stroke-width="1" />
<line x1="273.50" y1="15.50" x2="273.50" y2="163.00" stroke="#4a4a4a" stroke-width="1" />
<line x1="273.50" y1="162.50" x2="456.00" y2="162.50" stroke="#555" stroke-width="1" />
<line x1="455.50" y1="15.50" x2="455.50" y2="162.50" stroke="#505050" stroke-width="1" />
<line x1="290.00" y1="162.50" x2="290.00" y2="161.00" stroke="#333" stroke-width="0.8" />
<text x="290.0" y="171.0" font-size="8.2" text-anchor="middle" fill="#222" >0</text>
<line x1="273.50" y1="149.10" x2="275.00" y2="149.10" stroke="#333" stroke-width="0.8" />
<text x="271.0" y="151.9" font-size="8.2" text-anchor="end" fill="#222" >0</text>
<line x1="321.00" y1="162.50" x2="321.00" y2="161.00" stroke="#333" stroke-width="0.8" />
<text x="321.0" y="171.0" font-size="8.2" text-anchor="middle" fill="#222" >30</text>
<line x1="273.50" y1="124.16" x2="275.00" y2="124.16" stroke="#333" stroke-width="0.8" />
<text x="271.0" y="127.0" font-size="8.2" text-anchor="end" fill="#222" >30</text>
<line x1="352.00" y1="162.50" x2="352.00" y2="161.00" stroke="#333" stroke-width="0.8" />
<text x="352.0" y="171.0" font-size="8.2" text-anchor="middle" fill="#222" >60</text>
<line x1="273.50" y1="99.22" x2="275.00" y2="99.22" stroke="#333" stroke-width="0.8" />
<text x="271.0" y="102.0" font-size="8.2" text-anchor="end" fill="#222" >60</text>
<line x1="383.00" y1="162.50" x2="383.00" y2="161.00" stroke="#333" stroke-width="0.8" />
<text x="383.0" y="171.0" font-size="8.2" text-anchor="middle" fill="#222" >90</text>
<line x1="273.50" y1="74.28" x2="275.00" y2="74.28" stroke="#333" stroke-width="0.8" />
<text x="271.0" y="77.1" font-size="8.2" text-anchor="end" fill="#222" >90</text>
<line x1="414.00" y1="162.50" x2="414.00" y2="161.00" stroke="#333" stroke-width="0.8" />
<text x="414.0" y="171.0" font-size="8.2" text-anchor="middle" fill="#222" >120</text>
<line x1="273.50" y1="49.34" x2="275.00" y2="49.34" stroke="#333" stroke-width="0.8" />
<text x="271.0" y="52.1" font-size="8.2" text-anchor="end" fill="#222" >120</text>
<line x1="445.00" y1="162.50" x2="445.00" y2="161.00" stroke="#333" stroke-width="0.8" />
<text x="445.0" y="171.0" font-size="8.2" text-anchor="middle" fill="#222" >150</text>
<line x1="273.50" y1="24.40" x2="275.00" y2="24.40" stroke="#333" stroke-width="0.8" />
<text x="271.0" y="27.2" font-size="8.2" text-anchor="end" fill="#222" >150</text>
<text x="285.8" y="39.6" font-size="10.25" text-anchor="start" fill="#111" ><tspan font-style="italic">R</tspan><tspan dy="-3.8" font-size="7">2</tspan><tspan dy="3.8" dx="0.6"> = 0.87</tspan></text>
<text x="285.8" y="51.8" font-size="10.25" text-anchor="start" fill="#111" >RMSE = 8.66</text>
<text x="411.5" y="34.6" font-size="11.5" text-anchor="start" fill="#111" >1:1</text>
<text x="445.7" y="152.5" font-size="10.0" text-anchor="end" fill="#111" >n = 808</text>
<text x="364.4" y="189.6" font-size="12.3" text-anchor="middle" fill="#111">OC-Fe observed (g kg<tspan dy="-5" dx="0.5" font-size="9">-1</tspan><tspan dy="5" dx="0.8">)</tspan></text>
<text x="0" y="0" font-size="12.55" text-anchor="middle" fill="#111" transform="translate(253.2,88.7) rotate(-90)">OC-Fe predicted (g kg<tspan dy="-5" dx="0.5" font-size="9">-1</tspan><tspan dy="5" dx="0.8">)</tspan></text>
<text x="470.9" y="9.3" font-size="13" text-anchor="start" fill="#111" >(C)</text>
<polygon points="523.7,139.3 524.9,139.7 526.1,140.0 527.3,140.4 528.5,140.7 529.7,141.1 530.8,141.4 532.0,141.6 533.2,141.9 534.4,142.2 535.6,142.4 536.8,142.6 537.9,142.8 539.1,143.0 540.3,143.2 541.5,143.3 542.7,143.5 543.9,143.6 545.0,143.7 546.2,143.8 547.4,143.9 548.6,143.9 549.8,143.9 551.0,144.0 552.1,144.0 553.3,143.9 554.5,143.9 555.7,143.9 556.9,143.8 558.1,143.7 559.2,143.6 560.4,143.5 561.6,143.4 562.8,143.2 564.0,143.0 565.2,142.8 566.3,142.6 567.5,142.4 568.7,142.2 569.9,141.9 571.1,141.7 572.3,141.4 573.4,141.1 574.6,140.8 575.8,140.4 577.0,140.1 578.2,139.7 579.4,139.3 580.5,138.9 581.7,138.5 582.9,138.0 584.1,137.6 585.3,137.1 586.5,136.6 587.6,136.1 588.8,135.5 590.0,135.0 591.2,134.4 592.4,133.8 593.6,133.2 594.7,132.6 595.9,132.0 597.1,131.3 598.3,130.6 599.5,129.9 600.7,129.2 601.8,128.5 603.0,127.7 604.2,127.0 605.4,126.2 606.6,125.4 607.8,124.6 608.9,123.7 610.1,122.9 611.3,122.0 612.5,121.1 613.7,120.2 614.9,119.3 616.0,118.3 617.2,117.3 618.4,116.4 619.6,115.3 620.8,114.3 622.0,113.3 623.1,112.2 624.3,111.2 625.5,110.1 626.7,109.0 627.9,107.8 629.1,106.7 630.2,105.5 631.4,104.3 632.6,103.1 633.8,101.9 635.0,100.7 636.2,99.4 637.3,98.1 638.5,96.9 639.7,95.5 640.9,94.2 642.1,92.9 643.3,91.5 644.4,90.1 645.6,88.7 646.8,87.3 648.0,85.9 649.2,84.4 650.4,83.0 651.5,81.5 652.7,80.0 653.9,78.4 655.1,76.9 656.3,75.3 657.5,73.7 658.6,72.1 659.8,70.5 661.0,68.9 662.2,67.2 662.2,82.3 661.0,83.6 659.8,84.9 658.6,86.2 657.5,87.4 656.3,88.7 655.1,89.9 653.9,91.1 652.7,92.3 651.5,93.5 650.4,94.7 649.2,95.8 648.0,97.0 646.8,98.1 645.6,99.2 644.4,100.3 643.3,101.4 642.1,102.5 640.9,103.6 639.7,104.7 638.5,105.7 637.3,106.7 636.2,107.8 635.0,108.8 633.8,109.8 632.6,110.7 631.4,111.7 630.2,112.7 629.1,113.6 627.9,114.5 626.7,115.5 625.5,116.4 624.3,117.2 623.1,118.1 622.0,119.0 620.8,119.8 619.6,120.7 618.4,121.5 617.2,122.3 616.0,123.1 614.9,123.9 613.7,124.7 612.5,125.5 611.3,126.2 610.1,126.9 608.9,127.7 607.8,128.4 606.6,129.1 605.4,129.8 604.2,130.4 603.0,131.1 601.8,131.7 600.7,132.4 599.5,133.0 598.3,133.6 597.1,134.2 595.9,134.8 594.7,135.3 593.6,135.9 592.4,136.4 591.2,137.0 590.0,137.5 588.8,138.0 587.6,138.5 586.5,139.0 585.3,139.4 584.1,139.9 582.9,140.3 581.7,140.7 580.5,141.2 579.4,141.6 578.2,142.0 577.0,142.3 575.8,142.7 574.6,143.0 573.4,143.4 572.3,143.7 571.1,144.0 569.9,144.3 568.7,144.6 567.5,144.8 566.3,145.1 565.2,145.3 564.0,145.5 562.8,145.7 561.6,145.9 560.4,146.1 559.2,146.3 558.1,146.4 556.9,146.5 555.7,146.7 554.5,146.8 553.3,146.9 552.1,147.0 551.0,147.0 549.8,147.1 548.6,147.1 547.4,147.1 546.2,147.1 545.0,147.1 543.9,147.1 542.7,147.1 541.5,147.0 540.3,147.0 539.1,146.9 537.9,146.8 536.8,146.7 535.6,146.6 534.4,146.5 533.2,146.3 532.0,146.2 530.8,146.0 529.7,145.8 528.5,145.6 527.3,145.4 526.1,145.2 524.9,144.9 523.7,144.7" fill="#cbd6c4" fill-opacity="0.85"/>
<path d="M523.7,145.5 H662.4 V74.5" fill="none" stroke="#e2e2da" stroke-width="0.7"/>
<g fill="#386e18" fill-opacity="0.6" stroke="#132009" stroke-width="0.65" stroke-opacity="1">
<circle cx="651.9" cy="81.2" r="3.6"/>
<circle cx="606.1" cy="144.7" r="3.6"/>
<circle cx="601.2" cy="137.3" r="3.6"/>
<circle cx="560.6" cy="138.4" r="3.6"/>
<circle cx="626.2" cy="132.5" r="3.6"/>
<circle cx="613.0" cy="110.8" r="3.6"/>
<circle cx="634.2" cy="118.7" r="3.6"/>
<circle cx="628.0" cy="87.8" r="3.6"/>
<circle cx="654.2" cy="101.5" r="3.6"/>
<circle cx="607.2" cy="130.2" r="3.6"/>
<circle cx="614.4" cy="108.8" r="3.6"/>
<circle cx="630.1" cy="132.6" r="3.6"/>
<circle cx="631.8" cy="110.1" r="3.6"/>
<circle cx="571.0" cy="141.7" r="3.6"/>
<circle cx="638.3" cy="110.9" r="3.6"/>
<circle cx="579.7" cy="135.0" r="3.6"/>
<circle cx="619.9" cy="121.2" r="3.6"/>
<circle cx="569.5" cy="141.9" r="3.6"/>
<circle cx="621.8" cy="103.6" r="3.6"/>
<circle cx="595.8" cy="137.4" r="3.6"/>
<circle cx="619.6" cy="135.3" r="3.6"/>
<circle cx="638.1" cy="98.1" r="3.6"/>
<circle cx="627.9" cy="28.9" r="3.6"/>
<circle cx="583.6" cy="136.5" r="3.6"/>
<circle cx="634.1" cy="79.3" r="3.6"/>
<circle cx="586.1" cy="131.0" r="3.6"/>
<circle cx="566.4" cy="147.9" r="3.6"/>
<circle cx="607.9" cy="117.8" r="3.6"/>
<circle cx="629.0" cy="63.7" r="3.6"/>
<circle cx="647.6" cy="104.0" r="3.6"/>
<circle cx="600.5" cy="121.5" r="3.6"/>
<circle cx="626.2" cy="109.5" r="3.6"/>
<circle cx="626.1" cy="78.8" r="3.6"/>
<circle cx="616.8" cy="95.2" r="3.6"/>
<circle cx="608.9" cy="127.1" r="3.6"/>
<circle cx="614.3" cy="120.1" r="3.6"/>
<circle cx="589.4" cy="135.5" r="3.6"/>
<circle cx="619.6" cy="132.9" r="3.6"/>
<circle cx="567.0" cy="144.0" r="3.6"/>
<circle cx="542.5" cy="145.2" r="3.6"/>
<circle cx="606.7" cy="141.7" r="3.6"/>
<circle cx="638.5" cy="132.7" r="3.6"/>
<circle cx="624.2" cy="59.4" r="3.6"/>
<circle cx="631.8" cy="70.4" r="3.6"/>
<circle cx="569.9" cy="139.5" r="3.6"/>
<circle cx="574.4" cy="144.7" r="3.6"/>
<circle cx="554.0" cy="142.4" r="3.6"/>
<circle cx="629.5" cy="118.4" r="3.6"/>
<circle cx="576.6" cy="142.8" r="3.6"/>
<circle cx="582.6" cy="128.4" r="3.6"/>
<circle cx="603.0" cy="123.3" r="3.6"/>
<circle cx="567.7" cy="134.0" r="3.6"/>
<circle cx="540.6" cy="140.2" r="3.6"/>
<circle cx="622.4" cy="139.1" r="3.6"/>
<circle cx="593.6" cy="116.0" r="3.6"/>
<circle cx="611.0" cy="130.4" r="3.6"/>
<circle cx="619.7" cy="127.6" r="3.6"/>
<circle cx="551.3" cy="140.9" r="3.6"/>
<circle cx="628.2" cy="117.9" r="3.6"/>
<circle cx="626.0" cy="40.0" r="3.6"/>
<circle cx="627.7" cy="107.9" r="3.6"/>
<circle cx="641.1" cy="122.4" r="3.6"/>
<circle cx="523.6" cy="146.8" r="3.6"/>
<circle cx="629.4" cy="129.0" r="3.6"/>
<circle cx="619.2" cy="80.8" r="3.6"/>
<circle cx="618.6" cy="101.4" r="3.6"/>
<circle cx="551.1" cy="145.2" r="3.6"/>
<circle cx="561.9" cy="141.0" r="3.6"/>
<circle cx="633.7" cy="129.1" r="3.6"/>
<circle cx="631.6" cy="130.9" r="3.6"/>
<circle cx="641.6" cy="119.7" r="3.6"/>
<circle cx="644.5" cy="84.3" r="3.6"/>
<circle cx="627.4" cy="111.1" r="3.6"/>
<circle cx="635.0" cy="122.9" r="3.6"/>
<circle cx="623.3" cy="79.7" r="3.6"/>
<circle cx="592.3" cy="129.2" r="3.6"/>
<circle cx="546.8" cy="109.4" r="3.6"/>
<circle cx="617.3" cy="93.7" r="3.6"/>
<circle cx="631.3" cy="122.7" r="3.6"/>
<circle cx="595.5" cy="135.7" r="3.6"/>
<circle cx="625.5" cy="35.0" r="3.6"/>
<circle cx="589.1" cy="127.0" r="3.6"/>
<circle cx="612.2" cy="120.6" r="3.6"/>
<circle cx="640.3" cy="107.0" r="3.6"/>
<circle cx="625.8" cy="101.8" r="3.6"/>
<circle cx="636.7" cy="109.1" r="3.6"/>
<circle cx="613.4" cy="116.4" r="3.6"/>
<circle cx="634.4" cy="74.1" r="3.6"/>
<circle cx="622.4" cy="128.8" r="3.6"/>
<circle cx="594.6" cy="125.6" r="3.6"/>
<circle cx="599.9" cy="146.6" r="3.6"/>
<circle cx="624.8" cy="139.4" r="3.6"/>
<circle cx="621.9" cy="71.6" r="3.6"/>
<circle cx="527.4" cy="139.8" r="3.6"/>
<circle cx="595.8" cy="113.1" r="3.6"/>
<circle cx="557.5" cy="132.4" r="3.6"/>
<circle cx="635.3" cy="95.3" r="3.6"/>
<circle cx="635.7" cy="119.5" r="3.6"/>
<circle cx="624.0" cy="66.8" r="3.6"/>
<circle cx="601.9" cy="125.7" r="3.6"/>
<circle cx="566.4" cy="142.3" r="3.6"/>
<circle cx="543.5" cy="139.2" r="3.6"/>
<circle cx="589.1" cy="128.3" r="3.6"/>
<circle cx="619.0" cy="139.4" r="3.6"/>
<circle cx="550.6" cy="139.1" r="3.6"/>
<circle cx="622.5" cy="120.1" r="3.6"/>
<circle cx="633.5" cy="115.7" r="3.6"/>
<circle cx="619.0" cy="90.9" r="3.6"/>
<circle cx="629.2" cy="104.9" r="3.6"/>
<circle cx="612.2" cy="145.1" r="3.6"/>
<circle cx="536.3" cy="143.8" r="3.6"/>
<circle cx="632.6" cy="131.7" r="3.6"/>
<circle cx="638.4" cy="117.4" r="3.6"/>
<circle cx="610.6" cy="135.1" r="3.6"/>
<circle cx="623.1" cy="96.4" r="3.6"/>
<circle cx="588.7" cy="141.3" r="3.6"/>
<circle cx="630.0" cy="83.0" r="3.6"/>
<circle cx="589.3" cy="133.2" r="3.6"/>
<circle cx="592.0" cy="126.8" r="3.6"/>
<circle cx="555.4" cy="138.7" r="3.6"/>
<circle cx="621.6" cy="100.7" r="3.6"/>
<circle cx="531.7" cy="147.2" r="3.6"/>
<circle cx="624.3" cy="76.6" r="3.6"/>
<circle cx="595.3" cy="143.1" r="3.6"/>
<circle cx="626.0" cy="119.4" r="3.6"/>
<circle cx="522.1" cy="145.7" r="3.6"/>
<circle cx="615.1" cy="115.8" r="3.6"/>
<circle cx="590.6" cy="143.2" r="3.6"/>
<circle cx="560.5" cy="144.7" r="3.6"/>
<circle cx="626.7" cy="122.1" r="3.6"/>
<circle cx="538.0" cy="136.5" r="3.6"/>
<circle cx="614.6" cy="130.3" r="3.6"/>
<circle cx="574.2" cy="139.8" r="3.6"/>
<circle cx="605.0" cy="115.4" r="3.6"/>
<circle cx="614.2" cy="127.6" r="3.6"/>
<circle cx="631.6" cy="125.4" r="3.6"/>
<circle cx="540.5" cy="139.3" r="3.6"/>
<circle cx="618.0" cy="109.5" r="3.6"/>
<circle cx="633.2" cy="108.0" r="3.6"/>
<circle cx="606.2" cy="137.4" r="3.6"/>
<circle cx="621.0" cy="75.4" r="3.6"/>
<circle cx="586.4" cy="139.3" r="3.6"/>
<circle cx="562.7" cy="146.6" r="3.6"/>
<circle cx="643.9" cy="106.5" r="3.6"/>
<circle cx="659.3" cy="96.0" r="3.6"/>
<circle cx="521.3" cy="142.2" r="3.6"/>
<circle cx="584.4" cy="139.1" r="3.6"/>
<circle cx="537.0" cy="147.3" r="3.6"/>
<circle cx="622.9" cy="54.7" r="3.6"/>
<circle cx="585.5" cy="135.6" r="3.6"/>
<circle cx="628.8" cy="58.4" r="3.6"/>
<circle cx="635.5" cy="93.6" r="3.6"/>
<circle cx="628.4" cy="135.8" r="3.6"/>
<circle cx="599.0" cy="127.1" r="3.6"/>
<circle cx="627.9" cy="44.6" r="3.6"/>
<circle cx="581.4" cy="139.7" r="3.6"/>
<circle cx="629.6" cy="114.1" r="3.6"/>
<circle cx="534.5" cy="140.7" r="3.6"/>
<circle cx="621.4" cy="140.0" r="3.6"/>
<circle cx="627.3" cy="100.5" r="3.6"/>
<circle cx="627.3" cy="93.7" r="3.6"/>
<circle cx="646.1" cy="136.5" r="3.6"/>
<circle cx="567.3" cy="131.4" r="3.6"/>
<circle cx="644.7" cy="123.4" r="3.6"/>
<circle cx="603.0" cy="111.0" r="3.6"/>
<circle cx="627.4" cy="130.0" r="3.6"/>
<circle cx="618.7" cy="110.7" r="3.6"/>
<circle cx="633.3" cy="100.2" r="3.6"/>
<circle cx="584.7" cy="144.2" r="3.6"/>
<circle cx="592.4" cy="132.7" r="3.6"/>
<circle cx="640.5" cy="103.5" r="3.6"/>
<circle cx="636.4" cy="101.4" r="3.6"/>
<circle cx="610.9" cy="118.4" r="3.6"/>
<circle cx="637.7" cy="123.6" r="3.6"/>
<circle cx="614.3" cy="131.4" r="3.6"/>
<circle cx="629.4" cy="111.4" r="3.6"/>
<circle cx="621.7" cy="145.1" r="3.6"/>
<circle cx="637.1" cy="112.5" r="3.6"/>
<circle cx="593.2" cy="140.2" r="3.6"/>
<circle cx="552.4" cy="147.8" r="3.6"/>
<circle cx="596.7" cy="130.5" r="3.6"/>
<circle cx="537.0" cy="141.0" r="3.6"/>
<circle cx="630.0" cy="101.4" r="3.6"/>
<circle cx="547.0" cy="146.6" r="3.6"/>
<circle cx="638.1" cy="120.7" r="3.6"/>
<circle cx="621.8" cy="47.3" r="3.6"/>
<circle cx="641.4" cy="72.3" r="3.6"/>
<circle cx="541.4" cy="146.9" r="3.6"/>
<circle cx="625.0" cy="99.7" r="3.6"/>
<circle cx="595.8" cy="123.6" r="3.6"/>
<circle cx="619.1" cy="122.2" r="3.6"/>
<circle cx="631.0" cy="120.5" r="3.6"/>
<circle cx="617.7" cy="141.5" r="3.6"/>
<circle cx="622.6" cy="117.9" r="3.6"/>
<circle cx="622.6" cy="108.0" r="3.6"/>
<circle cx="637.0" cy="113.0" r="3.6"/>
<circle cx="603.9" cy="141.7" r="3.6"/>
<circle cx="629.7" cy="125.2" r="3.6"/>
<circle cx="598.5" cy="132.9" r="3.6"/>
<circle cx="579.0" cy="127.0" r="3.6"/>
<circle cx="633.6" cy="94.1" r="3.6"/>
<circle cx="610.9" cy="132.9" r="3.6"/>
<circle cx="631.8" cy="88.9" r="3.6"/>
<circle cx="576.0" cy="102.2" r="3.6"/>
<circle cx="627.9" cy="90.7" r="3.6"/>
<circle cx="622.8" cy="85.6" r="3.6"/>
<circle cx="636.8" cy="95.5" r="3.6"/>
<circle cx="624.4" cy="85.9" r="3.6"/>
<circle cx="545.2" cy="144.5" r="3.6"/>
<circle cx="616.4" cy="106.9" r="3.6"/>
<circle cx="612.1" cy="125.1" r="3.6"/>
<circle cx="618.4" cy="115.6" r="3.6"/>
<circle cx="593.4" cy="146.9" r="3.6"/>
<circle cx="628.7" cy="120.5" r="3.6"/>
<circle cx="632.4" cy="87.3" r="3.6"/>
<circle cx="531.7" cy="141.8" r="3.6"/>
<circle cx="614.0" cy="104.0" r="3.6"/>
<circle cx="620.5" cy="68.6" r="3.6"/>
<circle cx="617.7" cy="146.3" r="3.6"/>
<circle cx="608.5" cy="137.8" r="3.6"/>
<circle cx="631.3" cy="61.9" r="3.6"/>
<circle cx="609.4" cy="139.8" r="3.6"/>
<circle cx="599.9" cy="128.3" r="3.6"/>
<circle cx="581.0" cy="147.6" r="3.6"/>
<circle cx="608.1" cy="123.6" r="3.6"/>
<circle cx="636.6" cy="137.8" r="3.6"/>
<circle cx="627.1" cy="139.9" r="3.6"/>
<circle cx="612.5" cy="135.8" r="3.6"/>
<circle cx="588.6" cy="140.0" r="3.6"/>
<circle cx="612.0" cy="114.2" r="3.6"/>
<circle cx="635.5" cy="98.2" r="3.6"/>
<circle cx="642.2" cy="108.7" r="3.6"/>
<circle cx="637.9" cy="124.4" r="3.6"/>
<circle cx="620.4" cy="105.7" r="3.6"/>
<circle cx="619.1" cy="87.1" r="3.6"/>
<circle cx="603.2" cy="130.3" r="3.6"/>
<circle cx="627.7" cy="97.3" r="3.6"/>
<circle cx="547.9" cy="132.4" r="3.6"/>
<circle cx="625.5" cy="83.8" r="3.6"/>
<circle cx="642.0" cy="129.8" r="3.6"/>
<circle cx="625.1" cy="107.0" r="3.6"/>
<circle cx="622.5" cy="90.2" r="3.6"/>
<circle cx="577.1" cy="138.6" r="3.6"/>
<circle cx="606.9" cy="145.9" r="3.6"/>
<circle cx="574.5" cy="147.7" r="3.6"/>
<circle cx="634.7" cy="127.7" r="3.6"/>
<circle cx="571.0" cy="147.7" r="3.6"/>
<circle cx="625.7" cy="111.8" r="3.6"/>
<circle cx="538.7" cy="144.8" r="3.6"/>
<circle cx="616.5" cy="128.6" r="3.6"/>
<circle cx="610.7" cy="123.8" r="3.6"/>
<circle cx="618.2" cy="136.2" r="3.6"/>
<circle cx="624.4" cy="114.3" r="3.6"/>
<circle cx="616.0" cy="123.8" r="3.6"/>
<circle cx="540.5" cy="134.0" r="3.6"/>
<circle cx="606.3" cy="120.3" r="3.6"/>
<circle cx="631.2" cy="106.4" r="3.6"/>
<circle cx="621.6" cy="93.0" r="3.6"/>
<circle cx="528.8" cy="145.7" r="3.6"/>
<circle cx="601.9" cy="144.3" r="3.6"/>
<circle cx="599.6" cy="133.9" r="3.6"/>
<circle cx="547.1" cy="137.9" r="3.6"/>
<circle cx="586.0" cy="133.9" r="3.6"/>
<circle cx="619.3" cy="117.9" r="3.6"/>
<circle cx="635.4" cy="102.4" r="3.6"/>
<circle cx="562.5" cy="145.1" r="3.6"/>
<circle cx="663.0" cy="81.2" r="3.6"/>
<circle cx="525.0" cy="140.2" r="3.6"/>
<circle cx="635.9" cy="114.1" r="3.6"/>
<circle cx="527.6" cy="141.9" r="3.6"/>
<circle cx="599.5" cy="119.9" r="3.6"/>
<circle cx="610.5" cy="147.3" r="3.6"/>
<circle cx="633.8" cy="80.3" r="3.6"/>
<circle cx="610.7" cy="138.0" r="3.6"/>
<circle cx="627.0" cy="143.9" r="3.6"/>
<circle cx="527.4" cy="145.5" r="3.6"/>
<circle cx="619.3" cy="97.3" r="3.6"/>
<circle cx="615.2" cy="143.4" r="3.6"/>
<circle cx="587.9" cy="144.8" r="3.6"/>
<circle cx="604.4" cy="146.9" r="3.6"/>
<circle cx="556.1" cy="144.7" r="3.6"/>
<circle cx="581.6" cy="144.5" r="3.6"/>
<circle cx="590.2" cy="138.8" r="3.6"/>
<circle cx="588.5" cy="147.6" r="3.6"/>
<circle cx="630.8" cy="143.1" r="3.6"/>
<circle cx="634.7" cy="89.0" r="3.6"/>
<circle cx="641.5" cy="116.5" r="3.6"/>
<circle cx="639.0" cy="115.4" r="3.6"/>
<circle cx="581.1" cy="141.7" r="3.6"/>
<circle cx="643.9" cy="110.8" r="3.6"/>
<circle cx="618.3" cy="143.7" r="3.6"/>
<circle cx="597.8" cy="144.2" r="3.6"/>
<circle cx="593.6" cy="131.3" r="3.6"/>
<circle cx="632.7" cy="111.4" r="3.6"/>
<circle cx="620.8" cy="110.3" r="3.6"/>
<circle cx="563.9" cy="139.3" r="3.6"/>
<circle cx="544.5" cy="141.8" r="3.6"/>
<circle cx="615.9" cy="117.9" r="3.6"/>
<circle cx="636.3" cy="90.5" r="3.6"/>
<circle cx="584.6" cy="133.5" r="3.6"/>
<circle cx="604.2" cy="134.1" r="3.6"/>
<circle cx="619.9" cy="130.3" r="3.6"/>
<circle cx="620.9" cy="132.6" r="3.6"/>
<circle cx="591.4" cy="124.4" r="3.6"/>
<circle cx="576.4" cy="144.3" r="3.6"/>
<circle cx="628.1" cy="108.6" r="3.6"/>
<circle cx="598.5" cy="137.0" r="3.6"/>
<circle cx="601.6" cy="131.2" r="3.6"/>
<circle cx="653.8" cy="96.0" r="3.6"/>
<circle cx="537.1" cy="139.5" r="3.6"/>
<circle cx="621.4" cy="114.5" r="3.6"/>
<circle cx="547.5" cy="142.6" r="3.6"/>
<circle cx="628.1" cy="69.2" r="3.6"/>
<circle cx="577.7" cy="147.0" r="3.6"/>
<circle cx="635.9" cy="85.7" r="3.6"/>
<circle cx="626.3" cy="93.1" r="3.6"/>
<circle cx="586.6" cy="146.4" r="3.6"/>
<circle cx="594.0" cy="134.9" r="3.6"/>
<circle cx="616.4" cy="99.2" r="3.6"/>
<circle cx="630.2" cy="95.9" r="3.6"/>
<circle cx="552.7" cy="143.5" r="3.6"/>
<circle cx="584.6" cy="141.8" r="3.6"/>
<circle cx="530.0" cy="140.0" r="3.6"/>
<circle cx="532.7" cy="143.9" r="3.6"/>
<circle cx="605.7" cy="127.7" r="3.6"/>
<circle cx="557.1" cy="141.8" r="3.6"/>
<circle cx="633.6" cy="111.6" r="3.6"/>
<circle cx="578.4" cy="142.5" r="3.6"/>
<circle cx="642.4" cy="141.3" r="3.6"/>
<circle cx="595.1" cy="140.5" r="3.6"/>
<circle cx="625.6" cy="143.5" r="3.6"/>
<circle cx="636.6" cy="105.1" r="3.6"/>
<circle cx="599.6" cy="141.3" r="3.6"/>
<circle cx="559.8" cy="147.9" r="3.6"/>
<circle cx="607.1" cy="119.4" r="3.6"/>
<circle cx="608.1" cy="144.2" r="3.6"/>
<circle cx="619.2" cy="107.4" r="3.6"/>
<circle cx="615.9" cy="110.9" r="3.6"/>
<circle cx="608.8" cy="131.2" r="3.6"/>
<circle cx="631.2" cy="135.6" r="3.6"/>
<circle cx="588.9" cy="135.0" r="3.6"/>
<circle cx="560.0" cy="131.4" r="3.6"/>
<circle cx="624.1" cy="125.2" r="3.6"/>
<circle cx="622.9" cy="108.3" r="3.6"/>
<circle cx="604.3" cy="116.3" r="3.6"/>
<circle cx="554.5" cy="138.9" r="3.6"/>
<circle cx="584.8" cy="109.5" r="3.6"/>
<circle cx="631.6" cy="109.9" r="3.6"/>
<circle cx="570.4" cy="144.3" r="3.6"/>
<circle cx="615.5" cy="138.4" r="3.6"/>
<circle cx="661.1" cy="134.2" r="3.6"/>
<circle cx="622.4" cy="111.2" r="3.6"/>
<circle cx="613.5" cy="142.1" r="3.6"/>
<circle cx="622.9" cy="125.1" r="3.6"/>
<circle cx="623.8" cy="136.2" r="3.6"/>
<circle cx="600.1" cy="122.6" r="3.6"/>
<circle cx="622.7" cy="140.1" r="3.6"/>
<circle cx="567.3" cy="139.2" r="3.6"/>
<circle cx="622.7" cy="124.0" r="3.6"/>
</g>
<polyline points="523.7,142.0 524.9,142.3 526.1,142.6 527.3,142.9 528.5,143.2 529.7,143.4 530.8,143.7 532.0,143.9 533.2,144.1 534.4,144.3 535.6,144.5 536.8,144.7 537.9,144.8 539.1,145.0 540.3,145.1 541.5,145.2 542.7,145.3 543.9,145.4 545.0,145.4 546.2,145.5 547.4,145.5 548.6,145.5 549.8,145.5 551.0,145.5 552.1,145.5 553.3,145.4 554.5,145.3 555.7,145.3 556.9,145.2 558.1,145.1 559.2,144.9 560.4,144.8 561.6,144.6 562.8,144.5 564.0,144.3 565.2,144.1 566.3,143.9 567.5,143.6 568.7,143.4 569.9,143.1 571.1,142.8 572.3,142.5 573.4,142.2 574.6,141.9 575.8,141.6 577.0,141.2 578.2,140.8 579.4,140.4 580.5,140.0 581.7,139.6 582.9,139.2 584.1,138.7 585.3,138.3 586.5,137.8 587.6,137.3 588.8,136.8 590.0,136.2 591.2,135.7 592.4,135.1 593.6,134.6 594.7,134.0 595.9,133.4 597.1,132.7 598.3,132.1 599.5,131.5 600.7,130.8 601.8,130.1 603.0,129.4 604.2,128.7 605.4,128.0 606.6,127.2 607.8,126.5 608.9,125.7 610.1,124.9 611.3,124.1 612.5,123.3 613.7,122.4 614.9,121.6 616.0,120.7 617.2,119.8 618.4,118.9 619.6,118.0 620.8,117.1 622.0,116.1 623.1,115.2 624.3,114.2 625.5,113.2 626.7,112.2 627.9,111.2 629.1,110.1 630.2,109.1 631.4,108.0 632.6,106.9 633.8,105.8 635.0,104.7 636.2,103.6 637.3,102.4 638.5,101.3 639.7,100.1 640.9,98.9 642.1,97.7 643.3,96.5 644.4,95.2 645.6,94.0 646.8,92.7 648.0,91.4 649.2,90.1 650.4,88.8 651.5,87.5 652.7,86.1 653.9,84.8 655.1,83.4 656.3,82.0 657.5,80.6 658.6,79.2 659.8,77.7 661.0,76.3 662.2,74.8" fill="none" stroke="#111" stroke-width="1.3"/>
<line x1="502.00" y1="15.50" x2="685.00" y2="15.50" stroke="#8a8a8a" stroke-width="1" />
<line x1="502.50" y1="15.50" x2="502.50" y2="163.00" stroke="#4a4a4a" stroke-width="1" />
<line x1="502.50" y1="162.50" x2="685.00" y2="162.50" stroke="#555" stroke-width="1" />
<line x1="684.50" y1="15.50" x2="684.50" y2="162.50" stroke="#505050" stroke-width="1" />
<line x1="519.60" y1="162.50" x2="519.60" y2="161.00" stroke="#333" stroke-width="0.8" />
<text x="519.6" y="171.0" font-size="8.2" text-anchor="middle" fill="#222" >0</text>
<line x1="555.10" y1="162.50" x2="555.10" y2="161.00" stroke="#333" stroke-width="0.8" />
<text x="555.1" y="171.0" font-size="8.2" text-anchor="middle" fill="#222" >30</text>
<line x1="590.60" y1="162.50" x2="590.60" y2="161.00" stroke="#333" stroke-width="0.8" />
<text x="590.6" y="171.0" font-size="8.2" text-anchor="middle" fill="#222" >60</text>
<line x1="626.10" y1="162.50" x2="626.10" y2="161.00" stroke="#333" stroke-width="0.8" />
<text x="626.1" y="171.0" font-size="8.2" text-anchor="middle" fill="#222" >90</text>
<line x1="661.60" y1="162.50" x2="661.60" y2="161.00" stroke="#333" stroke-width="0.8" />
<text x="661.6" y="171.0" font-size="8.2" text-anchor="middle" fill="#222" >120</text>
<line x1="502.50" y1="145.50" x2="504.00" y2="145.50" stroke="#333" stroke-width="0.8" />
<text x="500.0" y="148.3" font-size="8.2" text-anchor="end" fill="#222" >0</text>
<line x1="502.50" y1="121.28" x2="504.00" y2="121.28" stroke="#333" stroke-width="0.8" />
<text x="500.0" y="124.1" font-size="8.2" text-anchor="end" fill="#222" >30</text>
<line x1="502.50" y1="97.06" x2="504.00" y2="97.06" stroke="#333" stroke-width="0.8" />
<text x="500.0" y="99.9" font-size="8.2" text-anchor="end" fill="#222" >60</text>
<line x1="502.50" y1="72.84" x2="504.00" y2="72.84" stroke="#333" stroke-width="0.8" />
<text x="500.0" y="75.6" font-size="8.2" text-anchor="end" fill="#222" >90</text>
<line x1="502.50" y1="48.62" x2="504.00" y2="48.62" stroke="#333" stroke-width="0.8" />
<text x="500.0" y="51.4" font-size="8.2" text-anchor="end" fill="#222" >120</text>
<line x1="502.50" y1="24.41" x2="504.00" y2="24.41" stroke="#333" stroke-width="0.8" />
<text x="500.0" y="27.2" font-size="8.2" text-anchor="end" fill="#222" >150</text>
<text x="514.7" y="38.7" font-size="10.25" text-anchor="start" fill="#111" ><tspan font-style="italic">R</tspan><tspan dy="-3.8" font-size="7">2</tspan><tspan dy="3.8" dx="0.6"> = 0.49, </tspan><tspan font-style="italic">p</tspan> &lt; 0.001</text>
<text x="673.3" y="151.8" font-size="10.0" text-anchor="end" fill="#111" >n = 531</text>
<text x="596.0" y="189.8" font-size="12.6" text-anchor="middle" fill="#111">Feo:Fed (%)</text>
<text x="0" y="0" font-size="11.35" text-anchor="middle" fill="#111" transform="translate(483.0,88.7) rotate(-90)">OC-Fe concentration (g kg<tspan dy="-5" dx="0.5" font-size="9">-1</tspan><tspan dy="5" dx="0.8">)</tspan></text>
<text x="7.9" y="201.6" font-size="13" text-anchor="start" fill="#111" >(D)</text>
<line x1="57.80" y1="310.50" x2="57.80" y2="320.50" stroke="#333" stroke-width="0.8" />
<line x1="57.80" y1="335.50" x2="57.80" y2="338.50" stroke="#333" stroke-width="0.8" />
<line x1="53.60" y1="310.50" x2="62.00" y2="310.50" stroke="#333" stroke-width="0.8" />
<line x1="53.60" y1="338.50" x2="62.00" y2="338.50" stroke="#333" stroke-width="0.8" />
<rect x="49.40" y="320.50" width="16.80" height="15.00" fill="#FDE725" stroke="#333" stroke-width="0.8"/>
<line x1="49.80" y1="331.50" x2="65.80" y2="331.50" stroke="#1a1a1a" stroke-width="1.3" stroke-opacity="0.55"/>
<path d="M57.80,292.20 L59.40,293.80 L57.80,295.40 L56.20,293.80 Z" fill="none" stroke="#222" stroke-width="0.7"/>
<line x1="83.75" y1="289.50" x2="83.75" y2="311.50" stroke="#333" stroke-width="0.8" />
<line x1="83.75" y1="332.50" x2="83.75" y2="338.50" stroke="#333" stroke-width="0.8" />
<line x1="79.55" y1="289.50" x2="87.95" y2="289.50" stroke="#333" stroke-width="0.8" />
<line x1="79.55" y1="338.50" x2="87.95" y2="338.50" stroke="#333" stroke-width="0.8" />
<rect x="75.35" y="311.50" width="16.80" height="21.00" fill="#B5DE2B" stroke="#333" stroke-width="0.8"/>
<line x1="75.75" y1="322.50" x2="91.75" y2="322.50" stroke="#1a1a1a" stroke-width="1.3" stroke-opacity="0.55"/>
<path d="M83.75,306.70 L85.35,308.30 L83.75,309.90 L82.15,308.30 Z" fill="none" stroke="#222" stroke-width="0.7"/>
<line x1="109.70" y1="293.50" x2="109.70" y2="315.50" stroke="#333" stroke-width="0.8" />
<line x1="109.70" y1="330.50" x2="109.70" y2="338.50" stroke="#333" stroke-width="0.8" />
<line x1="105.50" y1="293.50" x2="113.90" y2="293.50" stroke="#333" stroke-width="0.8" />
<line x1="105.50" y1="338.50" x2="113.90" y2="338.50" stroke="#333" stroke-width="0.8" />
<rect x="101.30" y="315.50" width="16.80" height="15.00" fill="#6ECE58" stroke="#333" stroke-width="0.8"/>
<line x1="101.70" y1="324.50" x2="117.70" y2="324.50" stroke="#1a1a1a" stroke-width="1.3" stroke-opacity="0.55"/>
<path d="M109.70,315.20 L111.30,316.80 L109.70,318.40 L108.10,316.80 Z" fill="none" stroke="#222" stroke-width="0.7"/>
<line x1="135.65" y1="295.50" x2="135.65" y2="305.50" stroke="#333" stroke-width="0.8" />
<line x1="135.65" y1="313.50" x2="135.65" y2="322.50" stroke="#333" stroke-width="0.8" />
<line x1="131.45" y1="295.50" x2="139.85" y2="295.50" stroke="#333" stroke-width="0.8" />
<line x1="131.45" y1="322.50" x2="139.85" y2="322.50" stroke="#333" stroke-width="0.8" />
<rect x="127.25" y="305.50" width="16.80" height="8.00" fill="#35B779" stroke="#333" stroke-width="0.8"/>
<line x1="127.65" y1="309.50" x2="143.65" y2="309.50" stroke="#1a1a1a" stroke-width="1.3" stroke-opacity="0.55"/>
<path d="M135.65,307.70 L137.25,309.30 L135.65,310.90 L134.05,309.30 Z" fill="none" stroke="#222" stroke-width="0.7"/>
<line x1="213.50" y1="323.50" x2="213.50" y2="330.50" stroke="#333" stroke-width="0.8" />
<line x1="213.50" y1="336.50" x2="213.50" y2="338.50" stroke="#333" stroke-width="0.8" />
<line x1="209.30" y1="323.50" x2="217.70" y2="323.50" stroke="#333" stroke-width="0.8" />
<line x1="209.30" y1="338.50" x2="217.70" y2="338.50" stroke="#333" stroke-width="0.8" />
<rect x="205.10" y="330.50" width="16.80" height="6.00" fill="#31688E" stroke="#333" stroke-width="0.8"/>
<line x1="205.50" y1="333.50" x2="221.50" y2="333.50" stroke="#1a1a1a" stroke-width="1.3" stroke-opacity="0.55"/>
<path d="M213.50,315.30 L215.10,316.90 L213.50,318.50 L211.90,316.90 Z" fill="none" stroke="#222" stroke-width="0.7"/>
<line x1="153.20" y1="338.50" x2="170.00" y2="338.50" stroke="#333" stroke-width="0.9" />
<circle cx="161.60" cy="338.5" r="1.3" fill="#222"/>
<rect x="179.15" y="264.5" width="16.80" height="48.00" fill="#26828E" stroke="#333" stroke-width="0.8"/>
<rect x="179.15" y="258.3" width="16.80" height="3.1" fill="#26828E" stroke="#333" stroke-width="0.6"/>
<line x1="179.15" y1="265.60" x2="195.95" y2="265.60" stroke="#222" stroke-width="0.8" />
<line x1="187.55" y1="248.50" x2="187.55" y2="258.30" stroke="#333" stroke-width="0.8" />
<line x1="182.85" y1="248.50" x2="192.25" y2="248.50" stroke="#333" stroke-width="0.8" />
<line x1="187.55" y1="312.50" x2="187.55" y2="338.50" stroke="#333" stroke-width="0.8" />
<line x1="183.35" y1="338.50" x2="191.75" y2="338.50" stroke="#333" stroke-width="0.8" />
<path d="M187.55,258.30 L189.05,259.8 L187.55,261.30 L186.05,259.8 Z" fill="none" stroke="#222" stroke-width="0.7"/>
<circle cx="57.80" cy="245.50" r="0.55" fill="#222"/>
<circle cx="57.80" cy="251.60" r="0.55" fill="#222"/>
<circle cx="57.80" cy="257.90" r="0.55" fill="#222"/>
<circle cx="83.75" cy="257.90" r="0.55" fill="#222"/>
<circle cx="83.75" cy="259.50" r="0.55" fill="#222"/>
<circle cx="83.75" cy="260.50" r="0.55" fill="#222"/>
<circle cx="83.75" cy="261.70" r="0.55" fill="#222"/>
<circle cx="109.70" cy="248.90" r="0.55" fill="#222"/>
<circle cx="109.70" cy="258.80" r="0.55" fill="#222"/>
<circle cx="109.70" cy="261.70" r="0.55" fill="#222"/>
<circle cx="109.70" cy="265.50" r="0.55" fill="#222"/>
<circle cx="109.70" cy="268.40" r="0.55" fill="#222"/>
<circle cx="109.70" cy="271.30" r="0.55" fill="#222"/>
<circle cx="109.70" cy="283.40" r="0.55" fill="#222"/>
<circle cx="109.70" cy="286.40" r="0.55" fill="#222"/>
<circle cx="135.65" cy="288.80" r="0.55" fill="#222"/>
<circle cx="135.65" cy="290.00" r="0.55" fill="#222"/>
<circle cx="135.65" cy="291.50" r="0.55" fill="#222"/>
<circle cx="187.55" cy="214.20" r="0.55" fill="#222"/>
<circle cx="187.55" cy="218.50" r="0.55" fill="#222"/>
<circle cx="187.55" cy="223.60" r="0.55" fill="#222"/>
<circle cx="187.55" cy="224.80" r="0.55" fill="#222"/>
<circle cx="187.55" cy="226.10" r="0.55" fill="#222"/>
<circle cx="187.55" cy="227.20" r="0.55" fill="#222"/>
<circle cx="187.55" cy="229.50" r="0.55" fill="#222"/>
<circle cx="187.55" cy="232.80" r="0.55" fill="#222"/>
<circle cx="187.55" cy="234.00" r="0.55" fill="#222"/>
<circle cx="187.55" cy="236.20" r="0.55" fill="#222"/>
<circle cx="187.55" cy="238.50" r="0.55" fill="#222"/>
<circle cx="187.55" cy="240.10" r="0.55" fill="#222"/>
<circle cx="187.55" cy="241.50" r="0.55" fill="#222"/>
<circle cx="187.55" cy="243.00" r="0.55" fill="#222"/>
<circle cx="187.55" cy="244.50" r="0.55" fill="#222"/>
<circle cx="187.55" cy="246.00" r="0.55" fill="#222"/>
<circle cx="213.50" cy="253.50" r="0.55" fill="#222"/>
<circle cx="213.50" cy="255.50" r="0.55" fill="#222"/>
<circle cx="213.50" cy="257.50" r="0.55" fill="#222"/>
<circle cx="213.50" cy="259.30" r="0.55" fill="#222"/>
<circle cx="213.50" cy="261.00" r="0.55" fill="#222"/>
<line x1="44.00" y1="209.50" x2="227.00" y2="209.50" stroke="#7a7a7a" stroke-width="1" />
<line x1="44.50" y1="209.50" x2="44.50" y2="356.00" stroke="#5a5a5a" stroke-width="1" />
<line x1="44.50" y1="355.50" x2="227.00" y2="355.50" stroke="#4a4a4a" stroke-width="1" />
<line x1="226.50" y1="209.50" x2="226.50" y2="355.50" stroke="#555" stroke-width="1" />
<rect x="42.5" y="261.6" width="4" height="3.2" fill="#fff"/>
<line x1="42.70" y1="262.80" x2="46.50" y2="260.60" stroke="#444" stroke-width="0.7" />
<line x1="42.70" y1="265.40" x2="46.50" y2="263.20" stroke="#444" stroke-width="0.7" />
<line x1="44.50" y1="221.50" x2="46.10" y2="221.50" stroke="#333" stroke-width="0.8" />
<text x="42.2" y="224.4" font-size="8.0" text-anchor="end" fill="#222" >100</text>
<line x1="44.50" y1="239.50" x2="46.10" y2="239.50" stroke="#333" stroke-width="0.8" />
<text x="42.2" y="242.4" font-size="8.0" text-anchor="end" fill="#222" >60</text>
<line x1="44.50" y1="257.50" x2="46.10" y2="257.50" stroke="#333" stroke-width="0.8" />
<text x="42.2" y="260.4" font-size="8.0" text-anchor="end" fill="#222" >20</text>
<line x1="44.50" y1="339.00" x2="46.10" y2="339.00" stroke="#333" stroke-width="0.8" />
<text x="42.0" y="341.9" font-size="8.0" text-anchor="end" fill="#222" >0</text>
<line x1="44.50" y1="314.19" x2="46.10" y2="314.19" stroke="#333" stroke-width="0.8" />
<text x="42.0" y="317.1" font-size="8.0" text-anchor="end" fill="#222" >3</text>
<line x1="44.50" y1="289.38" x2="46.10" y2="289.38" stroke="#333" stroke-width="0.8" />
<text x="42.0" y="292.3" font-size="8.0" text-anchor="end" fill="#222" >6</text>
<text x="57.8" y="349.1" font-size="7.4" text-anchor="middle" fill="#222" >(43)</text>
<line x1="57.80" y1="355.50" x2="57.80" y2="358.30" stroke="#333" stroke-width="0.8" />
<text x="0" y="0" font-size="10.2" text-anchor="middle" fill="#111" transform="translate(61.1,388.5) rotate(-45)">Cropland</text>
<text x="83.8" y="349.1" font-size="7.4" text-anchor="middle" fill="#222" >(58)</text>
<line x1="83.75" y1="355.50" x2="83.75" y2="358.30" stroke="#333" stroke-width="0.8" />
<text x="0" y="0" font-size="10.2" text-anchor="middle" fill="#111" transform="translate(87.0,388.5) rotate(-45)">Forest</text>
<text x="109.7" y="349.1" font-size="7.4" text-anchor="middle" fill="#222" >(153)</text>
<line x1="109.70" y1="355.50" x2="109.70" y2="358.30" stroke="#333" stroke-width="0.8" />
<text x="0" y="0" font-size="10.2" text-anchor="middle" fill="#111" transform="translate(113.0,388.5) rotate(-45)">Grassland</text>
<text x="135.6" y="349.1" font-size="7.4" text-anchor="middle" fill="#222" >(95)</text>
<line x1="135.65" y1="355.50" x2="135.65" y2="358.30" stroke="#333" stroke-width="0.8" />
<text x="0" y="0" font-size="10.2" text-anchor="middle" fill="#111" transform="translate(138.9,388.5) rotate(-45)">Permafrost</text>
<text x="161.6" y="349.1" font-size="7.4" text-anchor="middle" fill="#222" >(1)</text>
<line x1="161.60" y1="355.50" x2="161.60" y2="358.30" stroke="#333" stroke-width="0.8" />
<text x="0" y="0" font-size="10.2" text-anchor="middle" fill="#111" transform="translate(164.9,388.5) rotate(-45)">Shrubland</text>
<text x="187.6" y="349.1" font-size="7.4" text-anchor="middle" fill="#222" >(540)</text>
<line x1="187.55" y1="355.50" x2="187.55" y2="358.30" stroke="#333" stroke-width="0.8" />
<text x="0" y="0" font-size="10.2" text-anchor="middle" fill="#111" transform="translate(190.9,388.5) rotate(-45)">Wetland</text>
<text x="213.5" y="349.1" font-size="7.4" text-anchor="middle" fill="#222" >(28)</text>
<line x1="213.50" y1="355.50" x2="213.50" y2="358.30" stroke="#333" stroke-width="0.8" />
<text x="0" y="0" font-size="10.2" text-anchor="middle" fill="#111" transform="translate(216.8,388.5) rotate(-45)">Other</text>
<text x="0" y="0" font-size="11.45" text-anchor="middle" fill="#111" transform="translate(24.8,282.6) rotate(-90)">molar ratios of OC-Fe:Fed</text>
<text x="240.1" y="201.6" font-size="13" text-anchor="start" fill="#111" >(E)</text>
<polygon points="289.1,335.3 290.3,334.6 291.5,333.9 292.7,333.2 293.9,332.5 295.1,331.8 296.3,331.1 297.5,330.4 298.7,329.7 299.9,329.0 301.1,328.3 302.3,327.6 303.5,326.9 304.7,326.2 305.9,325.5 307.1,324.8 308.3,324.1 309.5,323.4 310.7,322.6 311.9,321.9 313.1,321.2 314.3,320.5 315.5,319.7 316.7,319.0 317.9,318.3 319.1,317.5 320.3,316.8 321.5,316.1 322.7,315.3 323.9,314.6 325.1,313.9 326.3,313.1 327.5,312.4 328.7,311.6 329.9,310.9 331.0,310.1 332.2,309.4 333.4,308.6 334.6,307.9 335.8,307.1 337.0,306.3 338.2,305.6 339.4,304.8 340.6,304.1 341.8,303.3 343.0,302.5 344.2,301.8 345.4,301.0 346.6,300.2 347.8,299.4 349.0,298.7 350.2,297.9 351.4,297.1 352.6,296.3 353.8,295.5 355.0,294.7 356.2,294.0 357.4,293.2 358.6,292.4 359.8,291.6 361.0,290.8 362.2,290.0 363.4,289.2 364.6,288.4 365.8,287.6 367.0,286.8 368.2,286.0 369.4,285.2 370.6,284.3 371.8,283.5 373.0,282.7 374.2,281.9 375.4,281.1 376.6,280.3 377.8,279.4 378.9,278.6 380.1,277.8 381.3,277.0 382.5,276.1 383.7,275.3 384.9,274.5 386.1,273.6 387.3,272.8 388.5,272.0 389.7,271.1 390.9,270.3 392.1,269.4 393.3,268.6 394.5,267.8 395.7,266.9 396.9,266.1 398.1,265.2 399.3,264.3 400.5,263.5 401.7,262.6 402.9,261.8 404.1,260.9 405.3,260.0 406.5,259.2 407.7,258.3 408.9,257.4 410.1,256.6 411.3,255.7 412.5,254.8 413.7,253.9 414.9,253.1 416.1,252.2 417.3,251.3 418.5,250.4 419.7,249.5 419.7,262.7 418.5,263.3 417.3,263.9 416.1,264.5 414.9,265.2 413.7,265.8 412.5,266.4 411.3,267.0 410.1,267.7 408.9,268.3 407.7,268.9 406.5,269.6 405.3,270.2 404.1,270.8 402.9,271.5 401.7,272.1 400.5,272.8 399.3,273.4 398.1,274.1 396.9,274.7 395.7,275.4 394.5,276.0 393.3,276.7 392.1,277.3 390.9,278.0 389.7,278.6 388.5,279.3 387.3,280.0 386.1,280.6 384.9,281.3 383.7,282.0 382.5,282.6 381.3,283.3 380.1,284.0 378.9,284.7 377.8,285.3 376.6,286.0 375.4,286.7 374.2,287.4 373.0,288.1 371.8,288.8 370.6,289.4 369.4,290.1 368.2,290.8 367.0,291.5 365.8,292.2 364.6,292.9 363.4,293.6 362.2,294.3 361.0,295.0 359.8,295.7 358.6,296.4 357.4,297.1 356.2,297.9 355.0,298.6 353.8,299.3 352.6,300.0 351.4,300.7 350.2,301.4 349.0,302.2 347.8,302.9 346.6,303.6 345.4,304.3 344.2,305.1 343.0,305.8 341.8,306.5 340.6,307.3 339.4,308.0 338.2,308.7 337.0,309.5 335.8,310.2 334.6,311.0 333.4,311.7 332.2,312.5 331.0,313.2 329.9,314.0 328.7,314.7 327.5,315.5 326.3,316.2 325.1,317.0 323.9,317.7 322.7,318.5 321.5,319.3 320.3,320.0 319.1,320.8 317.9,321.6 316.7,322.3 315.5,323.1 314.3,323.9 313.1,324.7 311.9,325.4 310.7,326.2 309.5,327.0 308.3,327.8 307.1,328.6 305.9,329.4 304.7,330.2 303.5,331.0 302.3,331.7 301.1,332.5 299.9,333.3 298.7,334.1 297.5,334.9 296.3,335.7 295.1,336.5 293.9,337.3 292.7,338.2 291.5,339.0 290.3,339.8 289.1,340.6" fill="#c6dcee" fill-opacity="0.75"/>
<path d="M288.7,341.6 H419.9 V255.3" fill="none" stroke="#e8f0f7" stroke-width="0.7"/>
<g fill="#2f6796" fill-opacity="0.75" stroke="#0d1720" stroke-width="0.65" stroke-opacity="0.95">
<circle cx="313.2" cy="326.3" r="3.75"/>
<circle cx="309.7" cy="318.5" r="3.75"/>
<circle cx="310.7" cy="334.6" r="3.75"/>
<circle cx="344.4" cy="322.5" r="3.75"/>
<circle cx="345.0" cy="286.9" r="3.75"/>
<circle cx="306.8" cy="314.5" r="3.75"/>
<circle cx="321.9" cy="299.1" r="3.75"/>
<circle cx="354.5" cy="274.8" r="3.75"/>
<circle cx="364.5" cy="293.7" r="3.75"/>
<circle cx="315.0" cy="328.7" r="3.75"/>
<circle cx="318.3" cy="286.9" r="3.75"/>
<circle cx="312.4" cy="297.7" r="3.75"/>
<circle cx="322.5" cy="329.8" r="3.75"/>
<circle cx="344.4" cy="308.2" r="3.75"/>
<circle cx="289.0" cy="338.0" r="3.75"/>
<circle cx="307.7" cy="314.2" r="3.75"/>
<circle cx="306.3" cy="335.7" r="3.75"/>
<circle cx="323.4" cy="307.1" r="3.75"/>
<circle cx="305.5" cy="323.2" r="3.75"/>
<circle cx="300.7" cy="337.7" r="3.75"/>
<circle cx="318.3" cy="313.1" r="3.75"/>
<circle cx="356.3" cy="279.5" r="3.75"/>
<circle cx="366.8" cy="268.4" r="3.75"/>
<circle cx="319.0" cy="286.6" r="3.75"/>
<circle cx="344.6" cy="278.6" r="3.75"/>
<circle cx="339.4" cy="302.5" r="3.75"/>
<circle cx="379.7" cy="264.5" r="3.75"/>
<circle cx="326.3" cy="302.3" r="3.75"/>
<circle cx="350.3" cy="282.1" r="3.75"/>
<circle cx="362.0" cy="318.0" r="3.75"/>
<circle cx="335.0" cy="316.4" r="3.75"/>
<circle cx="359.8" cy="310.1" r="3.75"/>
<circle cx="342.0" cy="300.0" r="3.75"/>
<circle cx="343.9" cy="332.5" r="3.75"/>
<circle cx="365.0" cy="257.3" r="3.75"/>
<circle cx="348.7" cy="297.4" r="3.75"/>
<circle cx="359.4" cy="278.6" r="3.75"/>
<circle cx="336.8" cy="290.6" r="3.75"/>
<circle cx="373.3" cy="240.7" r="3.75"/>
<circle cx="317.4" cy="304.7" r="3.75"/>
<circle cx="325.5" cy="311.2" r="3.75"/>
<circle cx="367.1" cy="299.7" r="3.75"/>
<circle cx="315.5" cy="306.1" r="3.75"/>
<circle cx="314.8" cy="300.5" r="3.75"/>
<circle cx="303.9" cy="312.6" r="3.75"/>
<circle cx="344.4" cy="297.5" r="3.75"/>
<circle cx="366.7" cy="278.6" r="3.75"/>
<circle cx="346.5" cy="300.0" r="3.75"/>
<circle cx="306.0" cy="310.6" r="3.75"/>
<circle cx="367.1" cy="294.5" r="3.75"/>
<circle cx="351.3" cy="283.4" r="3.75"/>
<circle cx="373.3" cy="293.4" r="3.75"/>
<circle cx="300.4" cy="328.4" r="3.75"/>
<circle cx="289.5" cy="340.0" r="3.75"/>
<circle cx="371.9" cy="272.6" r="3.75"/>
<circle cx="297.2" cy="326.6" r="3.75"/>
<circle cx="338.2" cy="297.2" r="3.75"/>
<circle cx="377.0" cy="281.4" r="3.75"/>
<circle cx="353.6" cy="288.8" r="3.75"/>
<circle cx="310.1" cy="301.6" r="3.75"/>
<circle cx="360.3" cy="257.3" r="3.75"/>
<circle cx="336.2" cy="320.5" r="3.75"/>
<circle cx="341.1" cy="318.3" r="3.75"/>
<circle cx="316.7" cy="320.1" r="3.75"/>
<circle cx="350.8" cy="282.9" r="3.75"/>
<circle cx="365.9" cy="247.2" r="3.75"/>
<circle cx="391.8" cy="272.1" r="3.75"/>
<circle cx="357.7" cy="302.1" r="3.75"/>
<circle cx="369.6" cy="260.1" r="3.75"/>
<circle cx="308.7" cy="322.3" r="3.75"/>
<circle cx="384.8" cy="281.0" r="3.75"/>
<circle cx="303.6" cy="316.9" r="3.75"/>
<circle cx="321.9" cy="320.9" r="3.75"/>
<circle cx="355.6" cy="297.2" r="3.75"/>
<circle cx="363.5" cy="300.6" r="3.75"/>
<circle cx="329.2" cy="307.2" r="3.75"/>
<circle cx="387.4" cy="282.1" r="3.75"/>
<circle cx="343.6" cy="326.5" r="3.75"/>
<circle cx="335.1" cy="285.6" r="3.75"/>
<circle cx="317.6" cy="324.2" r="3.75"/>
<circle cx="375.6" cy="317.1" r="3.75"/>
<circle cx="339.2" cy="304.6" r="3.75"/>
<circle cx="327.1" cy="329.8" r="3.75"/>
<circle cx="365.0" cy="267.4" r="3.75"/>
<circle cx="330.1" cy="285.1" r="3.75"/>
<circle cx="323.9" cy="322.0" r="3.75"/>
<circle cx="347.4" cy="320.3" r="3.75"/>
<circle cx="331.7" cy="298.2" r="3.75"/>
<circle cx="323.8" cy="289.1" r="3.75"/>
<circle cx="359.8" cy="290.7" r="3.75"/>
<circle cx="383.1" cy="273.8" r="3.75"/>
<circle cx="322.0" cy="310.0" r="3.75"/>
<circle cx="320.2" cy="318.2" r="3.75"/>
<circle cx="362.4" cy="257.1" r="3.75"/>
<circle cx="299.3" cy="337.7" r="3.75"/>
<circle cx="337.5" cy="308.3" r="3.75"/>
<circle cx="373.6" cy="297.3" r="3.75"/>
<circle cx="343.5" cy="313.1" r="3.75"/>
<circle cx="317.3" cy="313.9" r="3.75"/>
<circle cx="316.8" cy="309.4" r="3.75"/>
<circle cx="336.5" cy="307.6" r="3.75"/>
<circle cx="344.2" cy="278.5" r="3.75"/>
<circle cx="327.7" cy="321.1" r="3.75"/>
<circle cx="331.6" cy="331.3" r="3.75"/>
<circle cx="311.5" cy="308.8" r="3.75"/>
<circle cx="330.5" cy="311.0" r="3.75"/>
<circle cx="384.0" cy="285.5" r="3.75"/>
<circle cx="346.4" cy="308.4" r="3.75"/>
<circle cx="338.0" cy="323.5" r="3.75"/>
<circle cx="382.9" cy="274.0" r="3.75"/>
<circle cx="334.9" cy="333.3" r="3.75"/>
<circle cx="376.2" cy="229.5" r="3.75"/>
<circle cx="339.3" cy="287.3" r="3.75"/>
<circle cx="396.4" cy="292.5" r="3.75"/>
<circle cx="378.8" cy="281.2" r="3.75"/>
<circle cx="354.4" cy="315.4" r="3.75"/>
<circle cx="376.0" cy="229.1" r="3.75"/>
<circle cx="360.6" cy="304.3" r="3.75"/>
<circle cx="360.8" cy="288.5" r="3.75"/>
<circle cx="331.3" cy="307.4" r="3.75"/>
<circle cx="381.0" cy="336.3" r="3.75"/>
<circle cx="366.3" cy="314.4" r="3.75"/>
<circle cx="288.8" cy="339.2" r="3.75"/>
<circle cx="330.8" cy="335.1" r="3.75"/>
<circle cx="363.4" cy="244.4" r="3.75"/>
<circle cx="358.7" cy="285.0" r="3.75"/>
<circle cx="332.8" cy="283.3" r="3.75"/>
<circle cx="328.3" cy="321.8" r="3.75"/>
<circle cx="364.9" cy="298.0" r="3.75"/>
<circle cx="310.0" cy="303.8" r="3.75"/>
<circle cx="360.7" cy="266.6" r="3.75"/>
<circle cx="306.1" cy="324.3" r="3.75"/>
<circle cx="389.1" cy="270.0" r="3.75"/>
<circle cx="388.9" cy="268.8" r="3.75"/>
<circle cx="350.9" cy="286.0" r="3.75"/>
<circle cx="328.1" cy="317.7" r="3.75"/>
<circle cx="314.7" cy="294.1" r="3.75"/>
<circle cx="400.7" cy="279.0" r="3.75"/>
<circle cx="308.8" cy="316.8" r="3.75"/>
<circle cx="350.0" cy="304.4" r="3.75"/>
<circle cx="319.3" cy="322.6" r="3.75"/>
<circle cx="320.5" cy="291.0" r="3.75"/>
<circle cx="334.2" cy="327.4" r="3.75"/>
<circle cx="344.3" cy="277.8" r="3.75"/>
<circle cx="291.2" cy="337.0" r="3.75"/>
<circle cx="380.0" cy="235.9" r="3.75"/>
<circle cx="400.1" cy="279.0" r="3.75"/>
<circle cx="317.6" cy="333.0" r="3.75"/>
<circle cx="364.0" cy="267.5" r="3.75"/>
<circle cx="291.9" cy="337.4" r="3.75"/>
<circle cx="326.3" cy="311.5" r="3.75"/>
<circle cx="323.7" cy="294.1" r="3.75"/>
<circle cx="308.9" cy="328.8" r="3.75"/>
<circle cx="334.9" cy="296.8" r="3.75"/>
<circle cx="360.7" cy="278.6" r="3.75"/>
<circle cx="419.7" cy="305.0" r="3.75"/>
<circle cx="355.1" cy="310.7" r="3.75"/>
<circle cx="345.2" cy="305.0" r="3.75"/>
<circle cx="370.2" cy="257.1" r="3.75"/>
<circle cx="389.0" cy="289.7" r="3.75"/>
<circle cx="304.4" cy="329.0" r="3.75"/>
<circle cx="355.2" cy="333.8" r="3.75"/>
<circle cx="336.5" cy="329.4" r="3.75"/>
<circle cx="353.8" cy="293.2" r="3.75"/>
<circle cx="354.9" cy="317.2" r="3.75"/>
<circle cx="300.2" cy="322.2" r="3.75"/>
<circle cx="365.5" cy="245.0" r="3.75"/>
<circle cx="319.6" cy="288.7" r="3.75"/>
<circle cx="330.4" cy="320.6" r="3.75"/>
<circle cx="290.5" cy="337.0" r="3.75"/>
<circle cx="341.1" cy="290.4" r="3.75"/>
<circle cx="295.0" cy="334.9" r="3.75"/>
<circle cx="312.0" cy="331.8" r="3.75"/>
<circle cx="365.9" cy="254.5" r="3.75"/>
<circle cx="325.6" cy="307.6" r="3.75"/>
<circle cx="288.5" cy="337.5" r="3.75"/>
<circle cx="292.0" cy="339.0" r="3.75"/>
<circle cx="311.9" cy="323.6" r="3.75"/>
<circle cx="373.5" cy="336.3" r="3.75"/>
<circle cx="313.8" cy="296.9" r="3.75"/>
<circle cx="379.7" cy="235.2" r="3.75"/>
<circle cx="373.1" cy="241.0" r="3.75"/>
<circle cx="321.5" cy="304.9" r="3.75"/>
<circle cx="299.2" cy="337.1" r="3.75"/>
<circle cx="329.4" cy="301.8" r="3.75"/>
<circle cx="338.7" cy="315.8" r="3.75"/>
<circle cx="368.7" cy="248.1" r="3.75"/>
<circle cx="360.4" cy="265.9" r="3.75"/>
<circle cx="326.3" cy="323.0" r="3.75"/>
<circle cx="391.7" cy="272.6" r="3.75"/>
<circle cx="295.4" cy="338.3" r="3.75"/>
<circle cx="293.8" cy="333.9" r="3.75"/>
<circle cx="325.1" cy="313.5" r="3.75"/>
<circle cx="367.7" cy="293.4" r="3.75"/>
<circle cx="332.7" cy="305.8" r="3.75"/>
<circle cx="313.9" cy="311.5" r="3.75"/>
<circle cx="317.7" cy="321.1" r="3.75"/>
<circle cx="398.0" cy="292.3" r="3.75"/>
<circle cx="370.9" cy="293.0" r="3.75"/>
<circle cx="350.6" cy="316.3" r="3.75"/>
<circle cx="371.4" cy="272.1" r="3.75"/>
<circle cx="290.0" cy="339.0" r="3.75"/>
<circle cx="355.4" cy="306.1" r="3.75"/>
<circle cx="360.3" cy="287.8" r="3.75"/>
<circle cx="337.5" cy="284.4" r="3.75"/>
<circle cx="316.9" cy="335.1" r="3.75"/>
<circle cx="351.0" cy="325.4" r="3.75"/>
<circle cx="314.7" cy="316.3" r="3.75"/>
<circle cx="334.0" cy="325.1" r="3.75"/>
<circle cx="325.0" cy="290.3" r="3.75"/>
<circle cx="324.5" cy="298.4" r="3.75"/>
<circle cx="389.0" cy="269.4" r="3.75"/>
<circle cx="340.5" cy="332.8" r="3.75"/>
<circle cx="389.9" cy="295.2" r="3.75"/>
<circle cx="348.6" cy="290.3" r="3.75"/>
<circle cx="365.3" cy="304.2" r="3.75"/>
<circle cx="354.7" cy="275.2" r="3.75"/>
<circle cx="359.7" cy="256.3" r="3.75"/>
<circle cx="316.6" cy="329.6" r="3.75"/>
<circle cx="298.1" cy="330.6" r="3.75"/>
<circle cx="367.6" cy="260.5" r="3.75"/>
<circle cx="324.9" cy="332.1" r="3.75"/>
<circle cx="313.0" cy="311.1" r="3.75"/>
<circle cx="347.5" cy="282.7" r="3.75"/>
<circle cx="291.0" cy="338.5" r="3.75"/>
<circle cx="384.4" cy="286.0" r="3.75"/>
<circle cx="371.0" cy="267.4" r="3.75"/>
<circle cx="361.2" cy="296.1" r="3.75"/>
<circle cx="293.8" cy="329.6" r="3.75"/>
<circle cx="368.4" cy="247.2" r="3.75"/>
<circle cx="330.6" cy="314.0" r="3.75"/>
</g>
<line x1="289.1" y1="337.9" x2="419.4" y2="256.3" stroke="#333c44" stroke-width="1.3"/>
<line x1="273.00" y1="209.50" x2="456.00" y2="209.50" stroke="#8a8a8a" stroke-width="1" />
<line x1="273.50" y1="209.50" x2="273.50" y2="355.00" stroke="#4a4a4a" stroke-width="1" />
<line x1="273.50" y1="354.50" x2="456.00" y2="354.50" stroke="#555" stroke-width="1" />
<line x1="455.50" y1="209.50" x2="455.50" y2="354.50" stroke="#505050" stroke-width="1" />
<line x1="287.70" y1="354.50" x2="287.70" y2="353.00" stroke="#333" stroke-width="0.8" />
<text x="287.7" y="364.4" font-size="8.3" text-anchor="middle" fill="#222" >0</text>
<line x1="335.60" y1="354.50" x2="335.60" y2="353.00" stroke="#333" stroke-width="0.8" />
<text x="335.6" y="364.4" font-size="8.3" text-anchor="middle" fill="#222" >10</text>
<line x1="383.50" y1="354.50" x2="383.50" y2="353.00" stroke="#333" stroke-width="0.8" />
<text x="383.5" y="364.4" font-size="8.3" text-anchor="middle" fill="#222" >20</text>
<line x1="431.40" y1="354.50" x2="431.40" y2="353.00" stroke="#333" stroke-width="0.8" />
<text x="431.4" y="364.4" font-size="8.3" text-anchor="middle" fill="#222" >30</text>
<line x1="273.50" y1="340.00" x2="275.00" y2="340.00" stroke="#333" stroke-width="0.8" />
<text x="271.7" y="343.0" font-size="8.3" text-anchor="end" fill="#222" >0</text>
<line x1="273.50" y1="309.20" x2="275.00" y2="309.20" stroke="#333" stroke-width="0.8" />
<text x="271.7" y="312.2" font-size="8.3" text-anchor="end" fill="#222" >40</text>
<line x1="273.50" y1="278.40" x2="275.00" y2="278.40" stroke="#333" stroke-width="0.8" />
<text x="271.7" y="281.4" font-size="8.3" text-anchor="end" fill="#222" >80</text>
<line x1="273.50" y1="247.60" x2="275.00" y2="247.60" stroke="#333" stroke-width="0.8" />
<text x="271.7" y="250.6" font-size="8.3" text-anchor="end" fill="#222" >120</text>
<line x1="273.50" y1="216.80" x2="275.00" y2="216.80" stroke="#333" stroke-width="0.8" />
<text x="271.7" y="219.8" font-size="8.3" text-anchor="end" fill="#222" >160</text>
<text x="286.0" y="232.2" font-size="10.25" text-anchor="start" fill="#111" ><tspan font-style="italic">R</tspan><tspan dy="-3.8" font-size="7">2</tspan><tspan dy="3.8" dx="0.6"> = 0.55, </tspan><tspan font-style="italic">p</tspan> &lt; 0.001</text>
<text x="446.0" y="346.0" font-size="10.3" text-anchor="end" fill="#111" >n = 318</text>
<text x="364.4" y="384.8" font-size="12.45" text-anchor="middle" fill="#111">0.5Feo + Alo (g kg<tspan dy="-5" dx="0.5" font-size="9">-1</tspan><tspan dy="5" dx="0.8">)</tspan></text>
<text x="0" y="0" font-size="11.35" text-anchor="middle" fill="#111" transform="translate(255.0,282.2) rotate(-90)">OC-Fe concentration (g kg<tspan dy="-5" dx="0.5" font-size="9">-1</tspan><tspan dy="5" dx="0.8">)</tspan></text>
<text x="470.8" y="201.6" font-size="13" text-anchor="start" fill="#111" >(F)</text>
<polygon points="520.6,320.0 521.5,319.9 522.4,319.8 523.3,319.6 524.2,319.5 525.2,319.3 526.1,319.2 527.0,319.0 527.9,318.8 528.8,318.6 529.7,318.4 530.6,318.2 531.5,318.0 532.5,317.8 533.4,317.6 534.3,317.3 535.2,317.1 536.1,316.8 537.0,316.6 537.9,316.3 538.8,316.1 539.8,315.8 540.7,315.5 541.6,315.2 542.5,314.9 543.4,314.6 544.3,314.3 545.2,313.9 546.1,313.6 547.0,313.3 548.0,312.9 548.9,312.6 549.8,312.2 550.7,311.8 551.6,311.4 552.5,311.1 553.4,310.7 554.3,310.3 555.3,309.9 556.2,309.5 557.1,309.1 558.0,308.7 558.9,308.3 559.8,307.9 560.7,307.4 561.6,307.0 562.6,306.6 563.5,306.2 564.4,305.8 565.3,305.4 566.2,305.0 567.1,304.5 568.0,304.1 568.9,303.7 569.8,303.3 570.8,302.8 571.7,302.4 572.6,302.0 573.5,301.5 574.4,301.1 575.3,300.7 576.2,300.2 577.1,299.8 578.1,299.3 579.0,298.9 579.9,298.5 580.8,298.0 581.7,297.6 582.6,297.1 583.5,296.7 584.4,296.2 585.4,295.7 586.3,295.3 587.2,294.8 588.1,294.4 589.0,293.9 589.9,293.4 590.8,293.0 591.7,292.5 592.6,292.0 593.6,291.5 594.5,291.1 595.4,290.6 596.3,290.1 597.2,289.6 598.1,289.1 599.0,288.6 599.9,288.2 600.9,287.7 601.8,287.2 602.7,286.7 603.6,286.2 604.5,285.7 605.4,285.2 606.3,284.7 607.2,284.2 608.2,283.7 609.1,283.2 610.0,282.7 610.9,282.2 611.8,281.6 612.7,281.1 613.6,280.6 614.5,280.1 615.4,279.6 616.4,279.1 617.3,278.5 618.2,278.0 619.1,277.5 620.0,277.0 620.9,276.4 621.8,275.9 622.7,275.4 623.7,274.8 624.6,274.3 625.5,273.7 626.4,273.2 627.3,272.7 628.2,272.1 629.1,271.6 630.0,271.0 631.0,270.5 631.9,269.9 632.8,269.4 633.7,268.8 634.6,268.2 635.5,267.7 636.4,267.1 637.3,266.6 638.2,266.0 639.2,265.4 640.1,264.8 641.0,264.3 641.9,263.7 642.8,263.1 643.7,262.6 644.6,262.0 645.5,261.4 646.5,260.8 647.4,260.2 648.3,259.6 649.2,259.0 650.1,258.5 650.1,287.5 649.2,287.7 648.3,287.9 647.4,288.1 646.5,288.3 645.5,288.5 644.6,288.7 643.7,288.9 642.8,289.1 641.9,289.4 641.0,289.6 640.1,289.8 639.2,290.0 638.2,290.2 637.3,290.4 636.4,290.6 635.5,290.9 634.6,291.1 633.7,291.3 632.8,291.5 631.9,291.8 631.0,292.0 630.0,292.2 629.1,292.5 628.2,292.7 627.3,292.9 626.4,293.2 625.5,293.4 624.6,293.7 623.7,293.9 622.7,294.2 621.8,294.4 620.9,294.7 620.0,294.9 619.1,295.2 618.2,295.4 617.3,295.7 616.4,295.9 615.4,296.2 614.5,296.5 613.6,296.7 612.7,297.0 611.8,297.3 610.9,297.5 610.0,297.8 609.1,298.1 608.2,298.4 607.2,298.7 606.3,298.9 605.4,299.2 604.5,299.5 603.6,299.8 602.7,300.1 601.8,300.4 600.9,300.7 599.9,301.0 599.0,301.2 598.1,301.5 597.2,301.8 596.3,302.1 595.4,302.5 594.5,302.8 593.6,303.1 592.6,303.4 591.7,303.7 590.8,304.0 589.9,304.3 589.0,304.6 588.1,304.9 587.2,305.3 586.3,305.6 585.4,305.9 584.4,306.2 583.5,306.6 582.6,306.9 581.7,307.2 580.8,307.6 579.9,307.9 579.0,308.2 578.1,308.6 577.1,308.9 576.2,309.3 575.3,309.6 574.4,309.9 573.5,310.3 572.6,310.6 571.7,311.0 570.8,311.3 569.8,311.7 568.9,312.1 568.0,312.4 567.1,312.8 566.2,313.1 565.3,313.5 564.4,313.9 563.5,314.2 562.6,314.6 561.6,315.0 560.7,315.4 559.8,315.7 558.9,316.1 558.0,316.5 557.1,316.9 556.2,317.3 555.3,317.6 554.3,318.0 553.4,318.4 552.5,318.8 551.6,319.2 550.7,319.6 549.8,320.0 548.9,320.4 548.0,320.9 547.0,321.3 546.1,321.7 545.2,322.2 544.3,322.7 543.4,323.1 542.5,323.6 541.6,324.1 540.7,324.6 539.8,325.1 538.8,325.6 537.9,326.1 537.0,326.6 536.1,327.1 535.2,327.7 534.3,328.2 533.4,328.8 532.5,329.3 531.5,329.9 530.6,330.5 529.7,331.0 528.8,331.6 527.9,332.2 527.0,332.8 526.1,333.4 525.2,334.1 524.2,334.7 523.3,335.3 522.4,336.0 521.5,336.6 520.6,337.3" fill="#c6dcee" fill-opacity="0.75"/>
<path d="M520.6,335.3 H650.1 V273.9" fill="none" stroke="#e8f0f7" stroke-width="0.7"/>
<g fill="#3f77a4" fill-opacity="0.8" stroke="#0d1720" stroke-width="0.65" stroke-opacity="0.95">
<circle cx="644.4" cy="220.8" r="4.0"/>
<circle cx="563.6" cy="242.2" r="4.0"/>
<circle cx="616.9" cy="269.3" r="4.0"/>
<circle cx="612.3" cy="280.7" r="4.0"/>
<circle cx="576.1" cy="288.2" r="4.0"/>
<circle cx="580.3" cy="294.5" r="4.0"/>
<circle cx="649.7" cy="294.5" r="4.0"/>
<circle cx="557.3" cy="303.7" r="4.0"/>
<circle cx="588.7" cy="302.9" r="4.0"/>
<circle cx="600.2" cy="307.1" r="4.0"/>
<circle cx="610.2" cy="307.5" r="4.0"/>
<circle cx="585.5" cy="311.3" r="4.0"/>
<circle cx="578.2" cy="320.3" r="4.0"/>
<circle cx="633.5" cy="327.9" r="4.0"/>
<circle cx="591.8" cy="334.7" r="4.0"/>
<circle cx="558.0" cy="312.7" r="4.0"/>
<circle cx="558.8" cy="317.0" r="4.0"/>
<circle cx="524.0" cy="331.0" r="4.0"/>
<circle cx="529.0" cy="329.0" r="4.0"/>
<circle cx="523.0" cy="336.0" r="4.0"/>
<circle cx="526.0" cy="336.0" r="4.0"/>
<circle cx="528.0" cy="338.0" r="4.0"/>
<circle cx="540.4" cy="307.2" r="4.0"/>
<circle cx="546.9" cy="310.4" r="4.0"/>
<circle cx="542.7" cy="311.3" r="4.0"/>
<circle cx="545.2" cy="313.3" r="4.0"/>
<circle cx="532.5" cy="315.5" r="4.0"/>
<circle cx="535.8" cy="316.6" r="4.0"/>
<circle cx="541.4" cy="315.5" r="4.0"/>
<circle cx="531.4" cy="317.7" r="4.0"/>
<circle cx="535.3" cy="325.5" r="4.0"/>
<circle cx="528.6" cy="326.6" r="4.0"/>
<circle cx="525.3" cy="327.7" r="4.0"/>
<circle cx="522.5" cy="329.9" r="4.0"/>
<circle cx="522.0" cy="332.1" r="4.0"/>
<circle cx="526.4" cy="332.1" r="4.0"/>
<circle cx="530.3" cy="332.1" r="4.0"/>
<circle cx="529.7" cy="335.5" r="4.0"/>
<circle cx="531.4" cy="336.6" r="4.0"/>
<circle cx="522.5" cy="338.8" r="4.0"/>
<circle cx="525.3" cy="338.2" r="4.0"/>
<circle cx="527.5" cy="341.0" r="4.0"/>
</g>
<line x1="520.6" y1="328.6" x2="650.1" y2="273.0" stroke="#333c44" stroke-width="1.3"/>
<line x1="502.00" y1="209.50" x2="685.00" y2="209.50" stroke="#8a8a8a" stroke-width="1" />
<line x1="502.50" y1="209.50" x2="502.50" y2="355.00" stroke="#4a4a4a" stroke-width="1" />
<line x1="502.50" y1="354.50" x2="685.00" y2="354.50" stroke="#555" stroke-width="1" />
<line x1="684.50" y1="209.50" x2="684.50" y2="354.50" stroke="#505050" stroke-width="1" />
<line x1="520.60" y1="354.50" x2="520.60" y2="353.00" stroke="#333" stroke-width="0.8" />
<text x="520.6" y="364.4" font-size="8.3" text-anchor="middle" fill="#222" >0.0</text>
<line x1="566.20" y1="354.50" x2="566.20" y2="353.00" stroke="#333" stroke-width="0.8" />
<text x="566.2" y="364.4" font-size="8.3" text-anchor="middle" fill="#222" >0.5</text>
<line x1="611.80" y1="354.50" x2="611.80" y2="353.00" stroke="#333" stroke-width="0.8" />
<text x="611.8" y="364.4" font-size="8.3" text-anchor="middle" fill="#222" >1.0</text>
<line x1="657.40" y1="354.50" x2="657.40" y2="353.00" stroke="#333" stroke-width="0.8" />
<text x="657.4" y="364.4" font-size="8.3" text-anchor="middle" fill="#222" >1.5</text>
<line x1="502.50" y1="339.90" x2="504.00" y2="339.90" stroke="#333" stroke-width="0.8" />
<text x="500.0" y="342.9" font-size="8.3" text-anchor="end" fill="#222" >0</text>
<line x1="502.50" y1="301.10" x2="504.00" y2="301.10" stroke="#333" stroke-width="0.8" />
<text x="500.0" y="304.1" font-size="8.3" text-anchor="end" fill="#222" >5</text>
<line x1="502.50" y1="262.30" x2="504.00" y2="262.30" stroke="#333" stroke-width="0.8" />
<text x="500.0" y="265.3" font-size="8.3" text-anchor="end" fill="#222" >10</text>
<line x1="502.50" y1="223.50" x2="504.00" y2="223.50" stroke="#333" stroke-width="0.8" />
<text x="500.0" y="226.5" font-size="8.3" text-anchor="end" fill="#222" >15</text>
<text x="514.8" y="232.2" font-size="10.25" text-anchor="start" fill="#111" ><tspan font-style="italic">R</tspan><tspan dy="-3.8" font-size="7">2</tspan><tspan dy="3.8" dx="0.6"> = 0.42, </tspan><tspan font-style="italic">p</tspan> &lt; 0.001</text>
<text x="669.5" y="345.6" font-size="10.3" text-anchor="end" fill="#111" >n = 48</text>
<text x="593.5" y="385.6" font-size="12.4" text-anchor="middle" fill="#111">0.5Fep + Alp (g kg<tspan dy="-5" dx="0.5" font-size="9">-1</tspan><tspan dy="5" dx="0.8">)</tspan></text>
<text x="0" y="0" font-size="11.35" text-anchor="middle" fill="#111" transform="translate(487.8,282.4) rotate(-90)">OC-Fe concentration (g kg<tspan dy="-5" dx="0.5" font-size="9">-1</tspan><tspan dy="5" dx="0.8">)</tspan></text>
</svg>
</body></html>
